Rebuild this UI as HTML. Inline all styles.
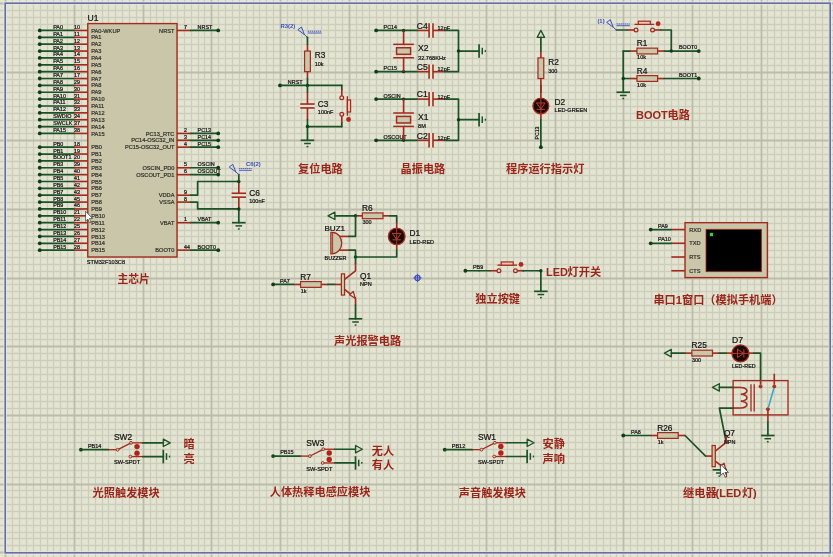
<!DOCTYPE html>
<html lang="zh"><head><meta charset="utf-8"><title>STM32 schematic</title>
<style>
html,body{margin:0;padding:0;background:#e4e4d3;overflow:hidden}
svg{display:block;will-change:transform;filter:blur(0.35px)}
svg text{font-family:"Liberation Sans","Noto Sans CJK SC",sans-serif}
</style></head><body>
<svg width="833" height="557" viewBox="0 0 833 557">
<rect x="0" y="0" width="833" height="557" fill="#e4e4d3"/>
<path d="M12.5 0V557M19.5 0V557M26.5 0V557M33.5 0V557M40.5 0V557M47.5 0V557M53.5 0V557M60.5 0V557M67.5 0V557M81.5 0V557M88.5 0V557M95.5 0V557M102.5 0V557M108.5 0V557M115.5 0V557M122.5 0V557M129.5 0V557M136.5 0V557M150.5 0V557M156.5 0V557M163.5 0V557M170.5 0V557M177.5 0V557M184.5 0V557M191.5 0V557M198.5 0V557M204.5 0V557M218.5 0V557M225.5 0V557M232.5 0V557M239.5 0V557M246.5 0V557M253.5 0V557M259.5 0V557M266.5 0V557M273.5 0V557M287.5 0V557M294.5 0V557M301.5 0V557M307.5 0V557M314.5 0V557M321.5 0V557M328.5 0V557M335.5 0V557M342.5 0V557M356.5 0V557M362.5 0V557M369.5 0V557M376.5 0V557M383.5 0V557M390.5 0V557M397.5 0V557M404.5 0V557M410.5 0V557M424.5 0V557M431.5 0V557M438.5 0V557M445.5 0V557M452.5 0V557M458.5 0V557M465.5 0V557M472.5 0V557M479.5 0V557M493.5 0V557M500.5 0V557M507.5 0V557M513.5 0V557M520.5 0V557M527.5 0V557M534.5 0V557M541.5 0V557M548.5 0V557M561.5 0V557M568.5 0V557M575.5 0V557M582.5 0V557M589.5 0V557M596.5 0V557M603.5 0V557M610.5 0V557M616.5 0V557M630.5 0V557M637.5 0V557M644.5 0V557M651.5 0V557M658.5 0V557M664.5 0V557M671.5 0V557M678.5 0V557M685.5 0V557M699.5 0V557M706.5 0V557M712.5 0V557M719.5 0V557M726.5 0V557M733.5 0V557M740.5 0V557M747.5 0V557M754.5 0V557M767.5 0V557M774.5 0V557M781.5 0V557M788.5 0V557M795.5 0V557M802.5 0V557M809.5 0V557M815.5 0V557M822.5 0V557M0 10.5H833M0 17.5H833M0 24.5H833M0 30.5H833M0 37.5H833M0 44.5H833M0 51.5H833M0 58.5H833M0 65.5H833M0 79.5H833M0 85.5H833M0 92.5H833M0 99.5H833M0 106.5H833M0 113.5H833M0 120.5H833M0 127.5H833M0 133.5H833M0 147.5H833M0 154.5H833M0 161.5H833M0 168.5H833M0 175.5H833M0 181.5H833M0 188.5H833M0 195.5H833M0 202.5H833M0 216.5H833M0 223.5H833M0 230.5H833M0 236.5H833M0 243.5H833M0 250.5H833M0 257.5H833M0 264.5H833M0 271.5H833M0 284.5H833M0 291.5H833M0 298.5H833M0 305.5H833M0 312.5H833M0 319.5H833M0 326.5H833M0 333.5H833M0 339.5H833M0 353.5H833M0 360.5H833M0 367.5H833M0 374.5H833M0 381.5H833M0 387.5H833M0 394.5H833M0 401.5H833M0 408.5H833M0 422.5H833M0 429.5H833M0 435.5H833M0 442.5H833M0 449.5H833M0 456.5H833M0 463.5H833M0 470.5H833M0 477.5H833M0 490.5H833M0 497.5H833M0 504.5H833M0 511.5H833M0 518.5H833M0 525.5H833M0 532.5H833M0 538.5H833M0 545.5H833" stroke="#cdcdbc" stroke-width="1.3" fill="none"/>
<path d="M5.5 0V557M74.5 0V557M143.5 0V557M211.5 0V557M280.5 0V557M349.5 0V557M417.5 0V557M486.5 0V557M555.5 0V557M623.5 0V557M692.5 0V557M761.5 0V557M829.5 0V557M0 3.5H833M0 72.5H833M0 140.5H833M0 209.5H833M0 278.5H833M0 346.5H833M0 415.5H833M0 484.5H833M0 552.5H833" stroke="#bcbcac" stroke-width="1.8" fill="none"/>
<rect x="5.2" y="3.2" width="825" height="549.6" fill="none" stroke="#f4f4f0" stroke-width="3.6" opacity="0.55"/>
<rect x="5.2" y="3.2" width="825" height="549.6" fill="none" stroke="#666dab" stroke-width="1.6"/>
<rect x="87.78" y="23.59" width="89.245" height="233.41" fill="#cac6a9" stroke="#a32a1c" stroke-width="1.4"/>
<text x="87.58" y="20.99" font-size="8.6" text-anchor="start" fill="#151515" font-weight="normal" stroke="#151515" stroke-width="0.22" >U1</text>
<text x="86.78" y="263.6" font-size="5.65" text-anchor="start" fill="#151515" font-weight="normal" stroke="#151515" stroke-width="0.22" >STM32F103C8</text>
<polyline points="39.73,30.46 74.05,30.46" fill="none" stroke="#1b5226" stroke-width="1.7" stroke-linejoin="round" stroke-linecap="round" />
<line x1="74.05" y1="30.46" x2="87.78" y2="30.46" stroke="#a32a1c" stroke-width="1.6" />
<circle cx="39.73" cy="30.46" r="1.9" fill="#0f3d17"/>
<text x="53.150000000000006" y="28.96" font-size="5.4" text-anchor="start" fill="#151515" font-weight="normal" stroke="#151515" stroke-width="0.22" >PA0</text>
<text x="74.05" y="28.96" font-size="5.4" text-anchor="start" fill="#151515" font-weight="normal" stroke="#151515" stroke-width="0.22" >10</text>
<text x="91.18" y="32.56" font-size="5.65" text-anchor="start" fill="#33332c" font-weight="normal" stroke="#33332c" stroke-width="0.22" >PA0-WKUP</text>
<polyline points="39.73,37.33 74.05,37.33" fill="none" stroke="#1b5226" stroke-width="1.7" stroke-linejoin="round" stroke-linecap="round" />
<line x1="74.05" y1="37.33" x2="87.78" y2="37.33" stroke="#a32a1c" stroke-width="1.6" />
<circle cx="39.73" cy="37.33" r="1.9" fill="#0f3d17"/>
<text x="53.150000000000006" y="35.83" font-size="5.4" text-anchor="start" fill="#151515" font-weight="normal" stroke="#151515" stroke-width="0.22" >PA1</text>
<text x="74.05" y="35.83" font-size="5.4" text-anchor="start" fill="#151515" font-weight="normal" stroke="#151515" stroke-width="0.22" >11</text>
<text x="91.18" y="39.43" font-size="5.65" text-anchor="start" fill="#33332c" font-weight="normal" stroke="#33332c" stroke-width="0.22" >PA1</text>
<polyline points="39.73,44.19 74.05,44.19" fill="none" stroke="#1b5226" stroke-width="1.7" stroke-linejoin="round" stroke-linecap="round" />
<line x1="74.05" y1="44.19" x2="87.78" y2="44.19" stroke="#a32a1c" stroke-width="1.6" />
<circle cx="39.73" cy="44.19" r="1.9" fill="#0f3d17"/>
<text x="53.150000000000006" y="42.69" font-size="5.4" text-anchor="start" fill="#151515" font-weight="normal" stroke="#151515" stroke-width="0.22" >PA2</text>
<text x="74.05" y="42.69" font-size="5.4" text-anchor="start" fill="#151515" font-weight="normal" stroke="#151515" stroke-width="0.22" >12</text>
<text x="91.18" y="46.29" font-size="5.65" text-anchor="start" fill="#33332c" font-weight="normal" stroke="#33332c" stroke-width="0.22" >PA2</text>
<polyline points="39.73,51.05 74.05,51.05" fill="none" stroke="#1b5226" stroke-width="1.7" stroke-linejoin="round" stroke-linecap="round" />
<line x1="74.05" y1="51.05" x2="87.78" y2="51.05" stroke="#a32a1c" stroke-width="1.6" />
<circle cx="39.73" cy="51.05" r="1.9" fill="#0f3d17"/>
<text x="53.150000000000006" y="49.55" font-size="5.4" text-anchor="start" fill="#151515" font-weight="normal" stroke="#151515" stroke-width="0.22" >PA3</text>
<text x="74.05" y="49.55" font-size="5.4" text-anchor="start" fill="#151515" font-weight="normal" stroke="#151515" stroke-width="0.22" >13</text>
<text x="91.18" y="53.15" font-size="5.65" text-anchor="start" fill="#33332c" font-weight="normal" stroke="#33332c" stroke-width="0.22" >PA3</text>
<polyline points="39.73,57.92 74.05,57.92" fill="none" stroke="#1b5226" stroke-width="1.7" stroke-linejoin="round" stroke-linecap="round" />
<line x1="74.05" y1="57.92" x2="87.78" y2="57.92" stroke="#a32a1c" stroke-width="1.6" />
<circle cx="39.73" cy="57.92" r="1.9" fill="#0f3d17"/>
<text x="53.150000000000006" y="56.42" font-size="5.4" text-anchor="start" fill="#151515" font-weight="normal" stroke="#151515" stroke-width="0.22" >PA4</text>
<text x="74.05" y="56.42" font-size="5.4" text-anchor="start" fill="#151515" font-weight="normal" stroke="#151515" stroke-width="0.22" >14</text>
<text x="91.18" y="60.02" font-size="5.65" text-anchor="start" fill="#33332c" font-weight="normal" stroke="#33332c" stroke-width="0.22" >PA4</text>
<polyline points="39.73,64.78 74.05,64.78" fill="none" stroke="#1b5226" stroke-width="1.7" stroke-linejoin="round" stroke-linecap="round" />
<line x1="74.05" y1="64.78" x2="87.78" y2="64.78" stroke="#a32a1c" stroke-width="1.6" />
<circle cx="39.73" cy="64.78" r="1.9" fill="#0f3d17"/>
<text x="53.150000000000006" y="63.28" font-size="5.4" text-anchor="start" fill="#151515" font-weight="normal" stroke="#151515" stroke-width="0.22" >PA5</text>
<text x="74.05" y="63.28" font-size="5.4" text-anchor="start" fill="#151515" font-weight="normal" stroke="#151515" stroke-width="0.22" >15</text>
<text x="91.18" y="66.88" font-size="5.65" text-anchor="start" fill="#33332c" font-weight="normal" stroke="#33332c" stroke-width="0.22" >PA5</text>
<polyline points="39.73,71.65 74.05,71.65" fill="none" stroke="#1b5226" stroke-width="1.7" stroke-linejoin="round" stroke-linecap="round" />
<line x1="74.05" y1="71.65" x2="87.78" y2="71.65" stroke="#a32a1c" stroke-width="1.6" />
<circle cx="39.73" cy="71.65" r="1.9" fill="#0f3d17"/>
<text x="53.150000000000006" y="70.15" font-size="5.4" text-anchor="start" fill="#151515" font-weight="normal" stroke="#151515" stroke-width="0.22" >PA6</text>
<text x="74.05" y="70.15" font-size="5.4" text-anchor="start" fill="#151515" font-weight="normal" stroke="#151515" stroke-width="0.22" >16</text>
<text x="91.18" y="73.75" font-size="5.65" text-anchor="start" fill="#33332c" font-weight="normal" stroke="#33332c" stroke-width="0.22" >PA6</text>
<polyline points="39.73,78.52 74.05,78.52" fill="none" stroke="#1b5226" stroke-width="1.7" stroke-linejoin="round" stroke-linecap="round" />
<line x1="74.05" y1="78.52" x2="87.78" y2="78.52" stroke="#a32a1c" stroke-width="1.6" />
<circle cx="39.73" cy="78.52" r="1.9" fill="#0f3d17"/>
<text x="53.150000000000006" y="77.02" font-size="5.4" text-anchor="start" fill="#151515" font-weight="normal" stroke="#151515" stroke-width="0.22" >PA7</text>
<text x="74.05" y="77.02" font-size="5.4" text-anchor="start" fill="#151515" font-weight="normal" stroke="#151515" stroke-width="0.22" >17</text>
<text x="91.18" y="80.61999999999999" font-size="5.65" text-anchor="start" fill="#33332c" font-weight="normal" stroke="#33332c" stroke-width="0.22" >PA7</text>
<polyline points="39.73,85.38 74.05,85.38" fill="none" stroke="#1b5226" stroke-width="1.7" stroke-linejoin="round" stroke-linecap="round" />
<line x1="74.05" y1="85.38" x2="87.78" y2="85.38" stroke="#a32a1c" stroke-width="1.6" />
<circle cx="39.73" cy="85.38" r="1.9" fill="#0f3d17"/>
<text x="53.150000000000006" y="83.88" font-size="5.4" text-anchor="start" fill="#151515" font-weight="normal" stroke="#151515" stroke-width="0.22" >PA8</text>
<text x="74.05" y="83.88" font-size="5.4" text-anchor="start" fill="#151515" font-weight="normal" stroke="#151515" stroke-width="0.22" >29</text>
<text x="91.18" y="87.47999999999999" font-size="5.65" text-anchor="start" fill="#33332c" font-weight="normal" stroke="#33332c" stroke-width="0.22" >PA8</text>
<polyline points="39.73,92.25 74.05,92.25" fill="none" stroke="#1b5226" stroke-width="1.7" stroke-linejoin="round" stroke-linecap="round" />
<line x1="74.05" y1="92.25" x2="87.78" y2="92.25" stroke="#a32a1c" stroke-width="1.6" />
<circle cx="39.73" cy="92.25" r="1.9" fill="#0f3d17"/>
<text x="53.150000000000006" y="90.75" font-size="5.4" text-anchor="start" fill="#151515" font-weight="normal" stroke="#151515" stroke-width="0.22" >PA9</text>
<text x="74.05" y="90.75" font-size="5.4" text-anchor="start" fill="#151515" font-weight="normal" stroke="#151515" stroke-width="0.22" >30</text>
<text x="91.18" y="94.35" font-size="5.65" text-anchor="start" fill="#33332c" font-weight="normal" stroke="#33332c" stroke-width="0.22" >PA9</text>
<polyline points="39.73,99.11 74.05,99.11" fill="none" stroke="#1b5226" stroke-width="1.7" stroke-linejoin="round" stroke-linecap="round" />
<line x1="74.05" y1="99.11" x2="87.78" y2="99.11" stroke="#a32a1c" stroke-width="1.6" />
<circle cx="39.73" cy="99.11" r="1.9" fill="#0f3d17"/>
<text x="53.150000000000006" y="97.61" font-size="5.4" text-anchor="start" fill="#151515" font-weight="normal" stroke="#151515" stroke-width="0.22" >PA10</text>
<text x="74.05" y="97.61" font-size="5.4" text-anchor="start" fill="#151515" font-weight="normal" stroke="#151515" stroke-width="0.22" >31</text>
<text x="91.18" y="101.21" font-size="5.65" text-anchor="start" fill="#33332c" font-weight="normal" stroke="#33332c" stroke-width="0.22" >PA10</text>
<polyline points="39.73,105.98 74.05,105.98" fill="none" stroke="#1b5226" stroke-width="1.7" stroke-linejoin="round" stroke-linecap="round" />
<line x1="74.05" y1="105.98" x2="87.78" y2="105.98" stroke="#a32a1c" stroke-width="1.6" />
<circle cx="39.73" cy="105.98" r="1.9" fill="#0f3d17"/>
<text x="53.150000000000006" y="104.48" font-size="5.4" text-anchor="start" fill="#151515" font-weight="normal" stroke="#151515" stroke-width="0.22" >PA11</text>
<text x="74.05" y="104.48" font-size="5.4" text-anchor="start" fill="#151515" font-weight="normal" stroke="#151515" stroke-width="0.22" >32</text>
<text x="91.18" y="108.08" font-size="5.65" text-anchor="start" fill="#33332c" font-weight="normal" stroke="#33332c" stroke-width="0.22" >PA11</text>
<polyline points="39.73,112.84 74.05,112.84" fill="none" stroke="#1b5226" stroke-width="1.7" stroke-linejoin="round" stroke-linecap="round" />
<line x1="74.05" y1="112.84" x2="87.78" y2="112.84" stroke="#a32a1c" stroke-width="1.6" />
<circle cx="39.73" cy="112.84" r="1.9" fill="#0f3d17"/>
<text x="53.150000000000006" y="111.34" font-size="5.4" text-anchor="start" fill="#151515" font-weight="normal" stroke="#151515" stroke-width="0.22" >PA12</text>
<text x="74.05" y="111.34" font-size="5.4" text-anchor="start" fill="#151515" font-weight="normal" stroke="#151515" stroke-width="0.22" >33</text>
<text x="91.18" y="114.94" font-size="5.65" text-anchor="start" fill="#33332c" font-weight="normal" stroke="#33332c" stroke-width="0.22" >PA12</text>
<polyline points="39.73,119.7 74.05,119.7" fill="none" stroke="#1b5226" stroke-width="1.7" stroke-linejoin="round" stroke-linecap="round" />
<line x1="74.05" y1="119.7" x2="87.78" y2="119.7" stroke="#a32a1c" stroke-width="1.6" />
<circle cx="39.73" cy="119.7" r="1.9" fill="#0f3d17"/>
<text x="53.150000000000006" y="118.2" font-size="5.4" text-anchor="start" fill="#151515" font-weight="normal" stroke="#151515" stroke-width="0.22" >SWDIO</text>
<text x="74.05" y="118.2" font-size="5.4" text-anchor="start" fill="#151515" font-weight="normal" stroke="#151515" stroke-width="0.22" >34</text>
<text x="91.18" y="121.8" font-size="5.65" text-anchor="start" fill="#33332c" font-weight="normal" stroke="#33332c" stroke-width="0.22" >PA13</text>
<polyline points="39.73,126.57 74.05,126.57" fill="none" stroke="#1b5226" stroke-width="1.7" stroke-linejoin="round" stroke-linecap="round" />
<line x1="74.05" y1="126.57" x2="87.78" y2="126.57" stroke="#a32a1c" stroke-width="1.6" />
<circle cx="39.73" cy="126.57" r="1.9" fill="#0f3d17"/>
<text x="53.150000000000006" y="125.07" font-size="5.4" text-anchor="start" fill="#151515" font-weight="normal" stroke="#151515" stroke-width="0.22" >SWCLK</text>
<text x="74.05" y="125.07" font-size="5.4" text-anchor="start" fill="#151515" font-weight="normal" stroke="#151515" stroke-width="0.22" >37</text>
<text x="91.18" y="128.67" font-size="5.65" text-anchor="start" fill="#33332c" font-weight="normal" stroke="#33332c" stroke-width="0.22" >PA14</text>
<polyline points="39.73,133.44 74.05,133.44" fill="none" stroke="#1b5226" stroke-width="1.7" stroke-linejoin="round" stroke-linecap="round" />
<line x1="74.05" y1="133.44" x2="87.78" y2="133.44" stroke="#a32a1c" stroke-width="1.6" />
<circle cx="39.73" cy="133.44" r="1.9" fill="#0f3d17"/>
<text x="53.150000000000006" y="131.94" font-size="5.4" text-anchor="start" fill="#151515" font-weight="normal" stroke="#151515" stroke-width="0.22" >PA15</text>
<text x="74.05" y="131.94" font-size="5.4" text-anchor="start" fill="#151515" font-weight="normal" stroke="#151515" stroke-width="0.22" >38</text>
<text x="91.18" y="135.54" font-size="5.65" text-anchor="start" fill="#33332c" font-weight="normal" stroke="#33332c" stroke-width="0.22" >PA15</text>
<polyline points="39.73,147.16 74.05,147.16" fill="none" stroke="#1b5226" stroke-width="1.7" stroke-linejoin="round" stroke-linecap="round" />
<line x1="74.05" y1="147.16" x2="87.78" y2="147.16" stroke="#a32a1c" stroke-width="1.6" />
<circle cx="39.73" cy="147.16" r="1.9" fill="#0f3d17"/>
<text x="53.150000000000006" y="145.66" font-size="5.4" text-anchor="start" fill="#151515" font-weight="normal" stroke="#151515" stroke-width="0.22" >PB0</text>
<text x="74.05" y="145.66" font-size="5.4" text-anchor="start" fill="#151515" font-weight="normal" stroke="#151515" stroke-width="0.22" >18</text>
<text x="91.18" y="149.26" font-size="5.65" text-anchor="start" fill="#33332c" font-weight="normal" stroke="#33332c" stroke-width="0.22" >PB0</text>
<polyline points="39.73,154.03 74.05,154.03" fill="none" stroke="#1b5226" stroke-width="1.7" stroke-linejoin="round" stroke-linecap="round" />
<line x1="74.05" y1="154.03" x2="87.78" y2="154.03" stroke="#a32a1c" stroke-width="1.6" />
<circle cx="39.73" cy="154.03" r="1.9" fill="#0f3d17"/>
<text x="53.150000000000006" y="152.53" font-size="5.4" text-anchor="start" fill="#151515" font-weight="normal" stroke="#151515" stroke-width="0.22" >PB1</text>
<text x="74.05" y="152.53" font-size="5.4" text-anchor="start" fill="#151515" font-weight="normal" stroke="#151515" stroke-width="0.22" >19</text>
<text x="91.18" y="156.13" font-size="5.65" text-anchor="start" fill="#33332c" font-weight="normal" stroke="#33332c" stroke-width="0.22" >PB1</text>
<polyline points="39.73,160.9 74.05,160.9" fill="none" stroke="#1b5226" stroke-width="1.7" stroke-linejoin="round" stroke-linecap="round" />
<line x1="74.05" y1="160.9" x2="87.78" y2="160.9" stroke="#a32a1c" stroke-width="1.6" />
<circle cx="39.73" cy="160.9" r="1.9" fill="#0f3d17"/>
<text x="53.150000000000006" y="159.4" font-size="5.4" text-anchor="start" fill="#151515" font-weight="normal" stroke="#151515" stroke-width="0.22" >BOOT1</text>
<text x="74.05" y="159.4" font-size="5.4" text-anchor="start" fill="#151515" font-weight="normal" stroke="#151515" stroke-width="0.22" >20</text>
<text x="91.18" y="163.0" font-size="5.65" text-anchor="start" fill="#33332c" font-weight="normal" stroke="#33332c" stroke-width="0.22" >PB2</text>
<polyline points="39.73,167.76 74.05,167.76" fill="none" stroke="#1b5226" stroke-width="1.7" stroke-linejoin="round" stroke-linecap="round" />
<line x1="74.05" y1="167.76" x2="87.78" y2="167.76" stroke="#a32a1c" stroke-width="1.6" />
<circle cx="39.73" cy="167.76" r="1.9" fill="#0f3d17"/>
<text x="53.150000000000006" y="166.26" font-size="5.4" text-anchor="start" fill="#151515" font-weight="normal" stroke="#151515" stroke-width="0.22" >PB3</text>
<text x="74.05" y="166.26" font-size="5.4" text-anchor="start" fill="#151515" font-weight="normal" stroke="#151515" stroke-width="0.22" >39</text>
<text x="91.18" y="169.85999999999999" font-size="5.65" text-anchor="start" fill="#33332c" font-weight="normal" stroke="#33332c" stroke-width="0.22" >PB3</text>
<polyline points="39.73,174.62 74.05,174.62" fill="none" stroke="#1b5226" stroke-width="1.7" stroke-linejoin="round" stroke-linecap="round" />
<line x1="74.05" y1="174.62" x2="87.78" y2="174.62" stroke="#a32a1c" stroke-width="1.6" />
<circle cx="39.73" cy="174.62" r="1.9" fill="#0f3d17"/>
<text x="53.150000000000006" y="173.12" font-size="5.4" text-anchor="start" fill="#151515" font-weight="normal" stroke="#151515" stroke-width="0.22" >PB4</text>
<text x="74.05" y="173.12" font-size="5.4" text-anchor="start" fill="#151515" font-weight="normal" stroke="#151515" stroke-width="0.22" >40</text>
<text x="91.18" y="176.72" font-size="5.65" text-anchor="start" fill="#33332c" font-weight="normal" stroke="#33332c" stroke-width="0.22" >PB4</text>
<polyline points="39.73,181.49 74.05,181.49" fill="none" stroke="#1b5226" stroke-width="1.7" stroke-linejoin="round" stroke-linecap="round" />
<line x1="74.05" y1="181.49" x2="87.78" y2="181.49" stroke="#a32a1c" stroke-width="1.6" />
<circle cx="39.73" cy="181.49" r="1.9" fill="#0f3d17"/>
<text x="53.150000000000006" y="179.99" font-size="5.4" text-anchor="start" fill="#151515" font-weight="normal" stroke="#151515" stroke-width="0.22" >PB5</text>
<text x="74.05" y="179.99" font-size="5.4" text-anchor="start" fill="#151515" font-weight="normal" stroke="#151515" stroke-width="0.22" >41</text>
<text x="91.18" y="183.59" font-size="5.65" text-anchor="start" fill="#33332c" font-weight="normal" stroke="#33332c" stroke-width="0.22" >PB5</text>
<polyline points="39.73,188.36 74.05,188.36" fill="none" stroke="#1b5226" stroke-width="1.7" stroke-linejoin="round" stroke-linecap="round" />
<line x1="74.05" y1="188.36" x2="87.78" y2="188.36" stroke="#a32a1c" stroke-width="1.6" />
<circle cx="39.73" cy="188.36" r="1.9" fill="#0f3d17"/>
<text x="53.150000000000006" y="186.86" font-size="5.4" text-anchor="start" fill="#151515" font-weight="normal" stroke="#151515" stroke-width="0.22" >PB6</text>
<text x="74.05" y="186.86" font-size="5.4" text-anchor="start" fill="#151515" font-weight="normal" stroke="#151515" stroke-width="0.22" >42</text>
<text x="91.18" y="190.46" font-size="5.65" text-anchor="start" fill="#33332c" font-weight="normal" stroke="#33332c" stroke-width="0.22" >PB6</text>
<polyline points="39.73,195.22 74.05,195.22" fill="none" stroke="#1b5226" stroke-width="1.7" stroke-linejoin="round" stroke-linecap="round" />
<line x1="74.05" y1="195.22" x2="87.78" y2="195.22" stroke="#a32a1c" stroke-width="1.6" />
<circle cx="39.73" cy="195.22" r="1.9" fill="#0f3d17"/>
<text x="53.150000000000006" y="193.72" font-size="5.4" text-anchor="start" fill="#151515" font-weight="normal" stroke="#151515" stroke-width="0.22" >PB7</text>
<text x="74.05" y="193.72" font-size="5.4" text-anchor="start" fill="#151515" font-weight="normal" stroke="#151515" stroke-width="0.22" >43</text>
<text x="91.18" y="197.32" font-size="5.65" text-anchor="start" fill="#33332c" font-weight="normal" stroke="#33332c" stroke-width="0.22" >PB7</text>
<polyline points="39.73,202.09 74.05,202.09" fill="none" stroke="#1b5226" stroke-width="1.7" stroke-linejoin="round" stroke-linecap="round" />
<line x1="74.05" y1="202.09" x2="87.78" y2="202.09" stroke="#a32a1c" stroke-width="1.6" />
<circle cx="39.73" cy="202.09" r="1.9" fill="#0f3d17"/>
<text x="53.150000000000006" y="200.59" font-size="5.4" text-anchor="start" fill="#151515" font-weight="normal" stroke="#151515" stroke-width="0.22" >PB8</text>
<text x="74.05" y="200.59" font-size="5.4" text-anchor="start" fill="#151515" font-weight="normal" stroke="#151515" stroke-width="0.22" >45</text>
<text x="91.18" y="204.19" font-size="5.65" text-anchor="start" fill="#33332c" font-weight="normal" stroke="#33332c" stroke-width="0.22" >PB8</text>
<polyline points="39.73,208.95 74.05,208.95" fill="none" stroke="#1b5226" stroke-width="1.7" stroke-linejoin="round" stroke-linecap="round" />
<line x1="74.05" y1="208.95" x2="87.78" y2="208.95" stroke="#a32a1c" stroke-width="1.6" />
<circle cx="39.73" cy="208.95" r="1.9" fill="#0f3d17"/>
<text x="53.150000000000006" y="207.45" font-size="5.4" text-anchor="start" fill="#151515" font-weight="normal" stroke="#151515" stroke-width="0.22" >PB9</text>
<text x="74.05" y="207.45" font-size="5.4" text-anchor="start" fill="#151515" font-weight="normal" stroke="#151515" stroke-width="0.22" >46</text>
<text x="91.18" y="211.04999999999998" font-size="5.65" text-anchor="start" fill="#33332c" font-weight="normal" stroke="#33332c" stroke-width="0.22" >PB9</text>
<polyline points="39.73,215.81 74.05,215.81" fill="none" stroke="#1b5226" stroke-width="1.7" stroke-linejoin="round" stroke-linecap="round" />
<line x1="74.05" y1="215.81" x2="87.78" y2="215.81" stroke="#a32a1c" stroke-width="1.6" />
<circle cx="39.73" cy="215.81" r="1.9" fill="#0f3d17"/>
<text x="53.150000000000006" y="214.31" font-size="5.4" text-anchor="start" fill="#151515" font-weight="normal" stroke="#151515" stroke-width="0.22" >PB10</text>
<text x="74.05" y="214.31" font-size="5.4" text-anchor="start" fill="#151515" font-weight="normal" stroke="#151515" stroke-width="0.22" >21</text>
<text x="91.18" y="217.91" font-size="5.65" text-anchor="start" fill="#33332c" font-weight="normal" stroke="#33332c" stroke-width="0.22" >PB10</text>
<polyline points="39.73,222.68 74.05,222.68" fill="none" stroke="#1b5226" stroke-width="1.7" stroke-linejoin="round" stroke-linecap="round" />
<line x1="74.05" y1="222.68" x2="87.78" y2="222.68" stroke="#a32a1c" stroke-width="1.6" />
<circle cx="39.73" cy="222.68" r="1.9" fill="#0f3d17"/>
<text x="53.150000000000006" y="221.18" font-size="5.4" text-anchor="start" fill="#151515" font-weight="normal" stroke="#151515" stroke-width="0.22" >PB11</text>
<text x="74.05" y="221.18" font-size="5.4" text-anchor="start" fill="#151515" font-weight="normal" stroke="#151515" stroke-width="0.22" >22</text>
<text x="91.18" y="224.78" font-size="5.65" text-anchor="start" fill="#33332c" font-weight="normal" stroke="#33332c" stroke-width="0.22" >PB11</text>
<polyline points="39.73,229.55 74.05,229.55" fill="none" stroke="#1b5226" stroke-width="1.7" stroke-linejoin="round" stroke-linecap="round" />
<line x1="74.05" y1="229.55" x2="87.78" y2="229.55" stroke="#a32a1c" stroke-width="1.6" />
<circle cx="39.73" cy="229.55" r="1.9" fill="#0f3d17"/>
<text x="53.150000000000006" y="228.05" font-size="5.4" text-anchor="start" fill="#151515" font-weight="normal" stroke="#151515" stroke-width="0.22" >PB12</text>
<text x="74.05" y="228.05" font-size="5.4" text-anchor="start" fill="#151515" font-weight="normal" stroke="#151515" stroke-width="0.22" >25</text>
<text x="91.18" y="231.65" font-size="5.65" text-anchor="start" fill="#33332c" font-weight="normal" stroke="#33332c" stroke-width="0.22" >PB12</text>
<polyline points="39.73,236.41 74.05,236.41" fill="none" stroke="#1b5226" stroke-width="1.7" stroke-linejoin="round" stroke-linecap="round" />
<line x1="74.05" y1="236.41" x2="87.78" y2="236.41" stroke="#a32a1c" stroke-width="1.6" />
<circle cx="39.73" cy="236.41" r="1.9" fill="#0f3d17"/>
<text x="53.150000000000006" y="234.91" font-size="5.4" text-anchor="start" fill="#151515" font-weight="normal" stroke="#151515" stroke-width="0.22" >PB13</text>
<text x="74.05" y="234.91" font-size="5.4" text-anchor="start" fill="#151515" font-weight="normal" stroke="#151515" stroke-width="0.22" >26</text>
<text x="91.18" y="238.51" font-size="5.65" text-anchor="start" fill="#33332c" font-weight="normal" stroke="#33332c" stroke-width="0.22" >PB13</text>
<polyline points="39.73,243.28 74.05,243.28" fill="none" stroke="#1b5226" stroke-width="1.7" stroke-linejoin="round" stroke-linecap="round" />
<line x1="74.05" y1="243.28" x2="87.78" y2="243.28" stroke="#a32a1c" stroke-width="1.6" />
<circle cx="39.73" cy="243.28" r="1.9" fill="#0f3d17"/>
<text x="53.150000000000006" y="241.78" font-size="5.4" text-anchor="start" fill="#151515" font-weight="normal" stroke="#151515" stroke-width="0.22" >PB14</text>
<text x="74.05" y="241.78" font-size="5.4" text-anchor="start" fill="#151515" font-weight="normal" stroke="#151515" stroke-width="0.22" >27</text>
<text x="91.18" y="245.38" font-size="5.65" text-anchor="start" fill="#33332c" font-weight="normal" stroke="#33332c" stroke-width="0.22" >PB14</text>
<polyline points="39.73,250.14 74.05,250.14" fill="none" stroke="#1b5226" stroke-width="1.7" stroke-linejoin="round" stroke-linecap="round" />
<line x1="74.05" y1="250.14" x2="87.78" y2="250.14" stroke="#a32a1c" stroke-width="1.6" />
<circle cx="39.73" cy="250.14" r="1.9" fill="#0f3d17"/>
<text x="53.150000000000006" y="248.64" font-size="5.4" text-anchor="start" fill="#151515" font-weight="normal" stroke="#151515" stroke-width="0.22" >PB15</text>
<text x="74.05" y="248.64" font-size="5.4" text-anchor="start" fill="#151515" font-weight="normal" stroke="#151515" stroke-width="0.22" >28</text>
<text x="91.18" y="252.23999999999998" font-size="5.65" text-anchor="start" fill="#33332c" font-weight="normal" stroke="#33332c" stroke-width="0.22" >PB15</text>
<line x1="177.03" y1="30.46" x2="190.76" y2="30.46" stroke="#a32a1c" stroke-width="1.6" />
<polyline points="190.76,30.46 218.22,30.46" fill="none" stroke="#1b5226" stroke-width="1.7" stroke-linejoin="round" stroke-linecap="round" />
<circle cx="218.22" cy="30.46" r="1.9" fill="#0f3d17"/>
<text x="197.62" y="28.96" font-size="5.4" text-anchor="start" fill="#151515" font-weight="normal" stroke="#151515" stroke-width="0.22" >NRST</text>
<text x="184.08999999999997" y="28.96" font-size="5.4" text-anchor="start" fill="#151515" font-weight="normal" stroke="#151515" stroke-width="0.22" >7</text>
<text x="174.43" y="32.56" font-size="5.65" text-anchor="end" fill="#33332c" font-weight="normal" stroke="#33332c" stroke-width="0.22" >NRST</text>
<line x1="177.03" y1="133.44" x2="190.76" y2="133.44" stroke="#a32a1c" stroke-width="1.6" />
<polyline points="190.76,133.44 218.22,133.44" fill="none" stroke="#1b5226" stroke-width="1.7" stroke-linejoin="round" stroke-linecap="round" />
<circle cx="218.22" cy="133.44" r="1.9" fill="#0f3d17"/>
<text x="197.62" y="131.94" font-size="5.4" text-anchor="start" fill="#151515" font-weight="normal" stroke="#151515" stroke-width="0.22" >PC13</text>
<text x="184.08999999999997" y="131.94" font-size="5.4" text-anchor="start" fill="#151515" font-weight="normal" stroke="#151515" stroke-width="0.22" >2</text>
<text x="174.43" y="135.54" font-size="5.65" text-anchor="end" fill="#33332c" font-weight="normal" stroke="#33332c" stroke-width="0.22" >PC13_RTC</text>
<line x1="177.03" y1="140.3" x2="190.76" y2="140.3" stroke="#a32a1c" stroke-width="1.6" />
<polyline points="190.76,140.3 218.22,140.3" fill="none" stroke="#1b5226" stroke-width="1.7" stroke-linejoin="round" stroke-linecap="round" />
<circle cx="218.22" cy="140.3" r="1.9" fill="#0f3d17"/>
<text x="197.62" y="138.8" font-size="5.4" text-anchor="start" fill="#151515" font-weight="normal" stroke="#151515" stroke-width="0.22" >PC14</text>
<text x="184.08999999999997" y="138.8" font-size="5.4" text-anchor="start" fill="#151515" font-weight="normal" stroke="#151515" stroke-width="0.22" >3</text>
<text x="174.43" y="142.4" font-size="5.65" text-anchor="end" fill="#33332c" font-weight="normal" stroke="#33332c" stroke-width="0.22" >PC14-OSC32_IN</text>
<line x1="177.03" y1="147.16" x2="190.76" y2="147.16" stroke="#a32a1c" stroke-width="1.6" />
<polyline points="190.76,147.16 218.22,147.16" fill="none" stroke="#1b5226" stroke-width="1.7" stroke-linejoin="round" stroke-linecap="round" />
<circle cx="218.22" cy="147.16" r="1.9" fill="#0f3d17"/>
<text x="197.62" y="145.66" font-size="5.4" text-anchor="start" fill="#151515" font-weight="normal" stroke="#151515" stroke-width="0.22" >PC15</text>
<text x="184.08999999999997" y="145.66" font-size="5.4" text-anchor="start" fill="#151515" font-weight="normal" stroke="#151515" stroke-width="0.22" >4</text>
<text x="174.43" y="149.26" font-size="5.65" text-anchor="end" fill="#33332c" font-weight="normal" stroke="#33332c" stroke-width="0.22" >PC15-OSC32_OUT</text>
<line x1="177.03" y1="167.76" x2="190.76" y2="167.76" stroke="#a32a1c" stroke-width="1.6" />
<polyline points="190.76,167.76 218.22,167.76" fill="none" stroke="#1b5226" stroke-width="1.7" stroke-linejoin="round" stroke-linecap="round" />
<circle cx="218.22" cy="167.76" r="1.9" fill="#0f3d17"/>
<text x="197.62" y="166.26" font-size="5.4" text-anchor="start" fill="#151515" font-weight="normal" stroke="#151515" stroke-width="0.22" >OSCIN</text>
<text x="184.08999999999997" y="166.26" font-size="5.4" text-anchor="start" fill="#151515" font-weight="normal" stroke="#151515" stroke-width="0.22" >5</text>
<text x="174.43" y="169.85999999999999" font-size="5.65" text-anchor="end" fill="#33332c" font-weight="normal" stroke="#33332c" stroke-width="0.22" >OSCIN_PD0</text>
<line x1="177.03" y1="174.62" x2="190.76" y2="174.62" stroke="#a32a1c" stroke-width="1.6" />
<polyline points="190.76,174.62 218.22,174.62" fill="none" stroke="#1b5226" stroke-width="1.7" stroke-linejoin="round" stroke-linecap="round" />
<circle cx="218.22" cy="174.62" r="1.9" fill="#0f3d17"/>
<text x="197.62" y="173.12" font-size="5.4" text-anchor="start" fill="#151515" font-weight="normal" stroke="#151515" stroke-width="0.22" >OSCOUT</text>
<text x="184.08999999999997" y="173.12" font-size="5.4" text-anchor="start" fill="#151515" font-weight="normal" stroke="#151515" stroke-width="0.22" >6</text>
<text x="174.43" y="176.72" font-size="5.65" text-anchor="end" fill="#33332c" font-weight="normal" stroke="#33332c" stroke-width="0.22" >OSCOUT_PD1</text>
<line x1="177.03" y1="195.22" x2="190.76" y2="195.22" stroke="#a32a1c" stroke-width="1.6" />
<text x="184.08999999999997" y="193.72" font-size="5.4" text-anchor="start" fill="#151515" font-weight="normal" stroke="#151515" stroke-width="0.22" >9</text>
<text x="174.43" y="197.32" font-size="5.65" text-anchor="end" fill="#33332c" font-weight="normal" stroke="#33332c" stroke-width="0.22" >VDDA</text>
<line x1="177.03" y1="202.09" x2="190.76" y2="202.09" stroke="#a32a1c" stroke-width="1.6" />
<text x="184.08999999999997" y="200.59" font-size="5.4" text-anchor="start" fill="#151515" font-weight="normal" stroke="#151515" stroke-width="0.22" >8</text>
<text x="174.43" y="204.19" font-size="5.65" text-anchor="end" fill="#33332c" font-weight="normal" stroke="#33332c" stroke-width="0.22" >VSSA</text>
<line x1="177.03" y1="222.68" x2="190.76" y2="222.68" stroke="#a32a1c" stroke-width="1.6" />
<polyline points="190.76,222.68 218.22,222.68" fill="none" stroke="#1b5226" stroke-width="1.7" stroke-linejoin="round" stroke-linecap="round" />
<circle cx="218.22" cy="222.68" r="1.9" fill="#0f3d17"/>
<text x="197.62" y="221.18" font-size="5.4" text-anchor="start" fill="#151515" font-weight="normal" stroke="#151515" stroke-width="0.22" >VBAT</text>
<text x="184.08999999999997" y="221.18" font-size="5.4" text-anchor="start" fill="#151515" font-weight="normal" stroke="#151515" stroke-width="0.22" >1</text>
<text x="174.43" y="224.78" font-size="5.65" text-anchor="end" fill="#33332c" font-weight="normal" stroke="#33332c" stroke-width="0.22" >VBAT</text>
<line x1="177.03" y1="250.14" x2="190.76" y2="250.14" stroke="#a32a1c" stroke-width="1.6" />
<polyline points="190.76,250.14 218.22,250.14" fill="none" stroke="#1b5226" stroke-width="1.7" stroke-linejoin="round" stroke-linecap="round" />
<circle cx="218.22" cy="250.14" r="1.9" fill="#0f3d17"/>
<text x="197.62" y="248.64" font-size="5.4" text-anchor="start" fill="#151515" font-weight="normal" stroke="#151515" stroke-width="0.22" >BOOT0</text>
<text x="184.08999999999997" y="248.64" font-size="5.4" text-anchor="start" fill="#151515" font-weight="normal" stroke="#151515" stroke-width="0.22" >44</text>
<text x="174.43" y="252.23999999999998" font-size="5.65" text-anchor="end" fill="#33332c" font-weight="normal" stroke="#33332c" stroke-width="0.22" >BOOT0</text>
<text x="117.5" y="283" font-size="10.8" text-anchor="start" fill="#9c2519" font-weight="bold"  >主芯片</text>
<polyline points="190.76,195.22 197.62,195.22 197.62,181.49 238.81,181.49" fill="none" stroke="#1b5226" stroke-width="1.7" stroke-linejoin="round" stroke-linecap="round" />
<polyline points="190.76,202.09 197.62,202.09 197.62,208.95 238.81,208.95" fill="none" stroke="#1b5226" stroke-width="1.7" stroke-linejoin="round" stroke-linecap="round" />
<line x1="238.81" y1="181.49" x2="238.81" y2="208.95" stroke="#a32a1c" stroke-width="1.6" />
<rect x="231.41" y="193.32" width="14.8" height="3.8" fill="#e4e4d3" stroke="none" stroke-width="1.2"/>
<line x1="231.61" y1="193.27" x2="246.01" y2="193.27" stroke="#a32a1c" stroke-width="1.6" />
<line x1="231.61" y1="197.17" x2="246.01" y2="197.17" stroke="#a32a1c" stroke-width="1.6" />
<text x="249.21" y="195.82" font-size="8.3" text-anchor="start" fill="#151515" font-weight="normal" stroke="#151515" stroke-width="0.22" >C6</text>
<text x="249.21" y="203.32" font-size="5.5" text-anchor="start" fill="#151515" font-weight="normal" stroke="#151515" stroke-width="0.22" >100nF</text>
<polyline points="238.81,208.95 238.81,222.68" fill="none" stroke="#1b5226" stroke-width="1.7" stroke-linejoin="round" stroke-linecap="round" />
<line x1="232.01" y1="222.68" x2="245.61" y2="222.68" stroke="#1b5226" stroke-width="1.7" />
<line x1="235.51" y1="225.88" x2="242.11" y2="225.88" stroke="#1b5226" stroke-width="1.5" />
<line x1="237.91" y1="228.98000000000002" x2="239.71" y2="228.98000000000002" stroke="#1b5226" stroke-width="1.4" />
<circle cx="238.81" cy="181.49" r="1.7" fill="#0f3d17"/>
<circle cx="238.81" cy="208.95" r="1.7" fill="#0f3d17"/>
<polyline points="238.81,181.49 238.81,174.62" fill="none" stroke="#1b5226" stroke-width="1.7" stroke-linejoin="round" stroke-linecap="round" />
<polyline points="238.81,174.62 235.81,171.92000000000002 229.21,167.02 232.81,164.32 235.81,171.92000000000002" fill="none" stroke="#3b4fc0" stroke-width="1.0" stroke-linejoin="round" stroke-linecap="round" />
<line x1="239.11" y1="168.52" x2="251.81" y2="168.52" stroke="#3b4fc0" stroke-width="0.9" stroke-dasharray="1.3,0.7"/>
<line x1="239.11" y1="170.32" x2="251.81" y2="170.32" stroke="#3b4fc0" stroke-width="0.9" />
<text x="246" y="166.0" font-size="5.9" text-anchor="start" fill="#3b4fc0" font-weight="bold"  >C6(2)</text>
<polyline points="307.46,37.33 304.46,34.629999999999995 297.85999999999996,29.729999999999997 301.46,27.029999999999998 304.46,34.629999999999995" fill="none" stroke="#3b4fc0" stroke-width="1.0" stroke-linejoin="round" stroke-linecap="round" />
<line x1="307.76" y1="31.229999999999997" x2="321.46" y2="31.229999999999997" stroke="#3b4fc0" stroke-width="0.9" stroke-dasharray="1.3,0.7"/>
<line x1="307.76" y1="33.03" x2="321.46" y2="33.03" stroke="#3b4fc0" stroke-width="0.9" />
<text x="280.5" y="28.4" font-size="5.9" text-anchor="start" fill="#3b4fc0" font-weight="bold"  >R3(2)</text>
<polyline points="307.46,37.33 307.46,44.19" fill="none" stroke="#1b5226" stroke-width="1.7" stroke-linejoin="round" stroke-linecap="round" />
<line x1="307.46" y1="44.19" x2="307.46" y2="51.05" stroke="#a32a1c" stroke-width="1.6" />
<line x1="307.46" y1="71.65" x2="307.46" y2="78.52" stroke="#a32a1c" stroke-width="1.6" />
<rect x="304.56" y="51.05" width="5.8" height="20.595" fill="#cac6a9" stroke="#a32a1c" stroke-width="1.2"/>
<text x="314.76" y="57.65" font-size="8.3" text-anchor="start" fill="#151515" font-weight="normal" stroke="#151515" stroke-width="0.22" >R3</text>
<text x="314.76" y="65.64999999999999" font-size="5.5" text-anchor="start" fill="#151515" font-weight="normal" stroke="#151515" stroke-width="0.22" >10k</text>
<polyline points="307.46,78.52 307.46,85.38" fill="none" stroke="#1b5226" stroke-width="1.7" stroke-linejoin="round" stroke-linecap="round" />
<polyline points="280.0,85.38 341.78,85.38" fill="none" stroke="#1b5226" stroke-width="1.7" stroke-linejoin="round" stroke-linecap="round" />
<circle cx="280.0" cy="85.38" r="1.9" fill="#0f3d17"/>
<circle cx="307.46" cy="85.38" r="1.7" fill="#0f3d17"/>
<text x="287.87" y="83.78" font-size="5.4" text-anchor="start" fill="#151515" font-weight="normal" stroke="#151515" stroke-width="0.22" >NRST</text>
<polyline points="307.46,85.38 307.46,92.25" fill="none" stroke="#1b5226" stroke-width="1.7" stroke-linejoin="round" stroke-linecap="round" />
<line x1="307.46" y1="92.25" x2="307.46" y2="119.7" stroke="#a32a1c" stroke-width="1.6" />
<rect x="300.06" y="104.08" width="14.8" height="3.8" fill="#e4e4d3" stroke="none" stroke-width="1.2"/>
<line x1="300.26" y1="104.03" x2="314.65999999999997" y2="104.03" stroke="#a32a1c" stroke-width="1.6" />
<line x1="300.26" y1="107.93" x2="314.65999999999997" y2="107.93" stroke="#a32a1c" stroke-width="1.6" />
<text x="317.85999999999996" y="106.58" font-size="8.3" text-anchor="start" fill="#151515" font-weight="normal" stroke="#151515" stroke-width="0.22" >C3</text>
<text x="317.85999999999996" y="114.08" font-size="5.5" text-anchor="start" fill="#151515" font-weight="normal" stroke="#151515" stroke-width="0.22" >100nF</text>
<polyline points="307.46,119.7 307.46,140.3" fill="none" stroke="#1b5226" stroke-width="1.7" stroke-linejoin="round" stroke-linecap="round" />
<line x1="300.65999999999997" y1="140.3" x2="314.26" y2="140.3" stroke="#1b5226" stroke-width="1.7" />
<line x1="304.15999999999997" y1="143.5" x2="310.76" y2="143.5" stroke="#1b5226" stroke-width="1.5" />
<line x1="306.56" y1="146.60000000000002" x2="308.35999999999996" y2="146.60000000000002" stroke="#1b5226" stroke-width="1.4" />
<polyline points="307.46,126.57 341.78,126.57" fill="none" stroke="#1b5226" stroke-width="1.7" stroke-linejoin="round" stroke-linecap="round" />
<circle cx="307.46" cy="126.57" r="1.7" fill="#0f3d17"/>
<polyline points="341.78,85.38 341.78,89.5" fill="none" stroke="#1b5226" stroke-width="1.7" stroke-linejoin="round" stroke-linecap="round" />
<polyline points="341.78,122.45 341.78,126.57" fill="none" stroke="#1b5226" stroke-width="1.7" stroke-linejoin="round" stroke-linecap="round" />
<line x1="341.78" y1="88.98" x2="341.78" y2="95.83" stroke="#a32a1c" stroke-width="1.6" />
<line x1="341.78" y1="116.13000000000001" x2="341.78" y2="122.98" stroke="#a32a1c" stroke-width="1.6" />
<circle cx="341.78" cy="97.73" r="1.9" fill="none" stroke="#a32a1c" stroke-width="1.2"/>
<circle cx="341.78" cy="114.23" r="1.9" fill="none" stroke="#a32a1c" stroke-width="1.2"/>
<line x1="347.38" y1="96.18" x2="347.38" y2="115.78" stroke="#a32a1c" stroke-width="1.3" />
<rect x="347.38" y="99.98" width="3.2" height="12" fill="#f1c3b0" stroke="#a32a1c" stroke-width="1.2"/>
<circle cx="348.58" cy="119.48" r="2.4" fill="#b5261a"/>
<text x="298" y="173.2" font-size="11.2" text-anchor="start" fill="#9c2519" font-weight="bold"  >复位电路</text>
<polyline points="376.11,30.46 417.3,30.46" fill="none" stroke="#1b5226" stroke-width="1.7" stroke-linejoin="round" stroke-linecap="round" />
<circle cx="376.11" cy="30.46" r="1.9" fill="#0f3d17"/>
<circle cx="403.57" cy="30.46" r="1.7" fill="#0f3d17"/>
<polyline points="376.11,71.65 417.3,71.65" fill="none" stroke="#1b5226" stroke-width="1.7" stroke-linejoin="round" stroke-linecap="round" />
<circle cx="376.11" cy="71.65" r="1.9" fill="#0f3d17"/>
<circle cx="403.57" cy="71.65" r="1.7" fill="#0f3d17"/>
<text x="383.57000000000005" y="28.86" font-size="5.4" text-anchor="start" fill="#151515" font-weight="normal" stroke="#151515" stroke-width="0.22" >PC14</text>
<text x="383.57000000000005" y="70.05000000000001" font-size="5.4" text-anchor="start" fill="#151515" font-weight="normal" stroke="#151515" stroke-width="0.22" >PC15</text>
<line x1="403.57" y1="30.46" x2="403.57" y2="44.19" stroke="#a32a1c" stroke-width="1.6" />
<line x1="403.57" y1="57.92" x2="403.57" y2="71.65" stroke="#a32a1c" stroke-width="1.6" />
<line x1="393.27" y1="44.349999999999994" x2="413.87" y2="44.349999999999994" stroke="#a32a1c" stroke-width="1.5" />
<line x1="393.27" y1="57.75" x2="413.87" y2="57.75" stroke="#a32a1c" stroke-width="1.5" />
<rect x="396.57" y="47.75" width="14.0" height="6.6" fill="#cac6a9" stroke="#a32a1c" stroke-width="1.5"/>
<text x="418.07" y="51.25" font-size="8.6" text-anchor="start" fill="#151515" font-weight="normal" stroke="#151515" stroke-width="0.22" >X2</text>
<text x="418.07" y="59.65" font-size="5.6" text-anchor="start" fill="#151515" font-weight="normal" stroke="#151515" stroke-width="0.22" >32.768KHz</text>
<line x1="417.3" y1="30.46" x2="431.03" y2="30.46" stroke="#a32a1c" stroke-width="1.6" />
<line x1="431.03" y1="30.46" x2="444.76" y2="30.46" stroke="#a32a1c" stroke-width="1.6" />
<rect x="429.13" y="23.060000000000002" width="3.8" height="14.8" fill="#e4e4d3" stroke="none" stroke-width="1.2"/>
<line x1="429.08" y1="23.26" x2="429.08" y2="37.660000000000004" stroke="#a32a1c" stroke-width="1.6" />
<line x1="432.97999999999996" y1="23.26" x2="432.97999999999996" y2="37.660000000000004" stroke="#a32a1c" stroke-width="1.6" />
<text x="416.83" y="28.66" font-size="8.6" text-anchor="start" fill="#151515" font-weight="normal" stroke="#151515" stroke-width="0.22" >C4</text>
<text x="437.53" y="30.060000000000002" font-size="5.5" text-anchor="start" fill="#151515" font-weight="normal" stroke="#151515" stroke-width="0.22" >12pF</text>
<line x1="417.3" y1="71.65" x2="431.03" y2="71.65" stroke="#a32a1c" stroke-width="1.6" />
<line x1="431.03" y1="71.65" x2="444.76" y2="71.65" stroke="#a32a1c" stroke-width="1.6" />
<rect x="429.13" y="64.25" width="3.8" height="14.8" fill="#e4e4d3" stroke="none" stroke-width="1.2"/>
<line x1="429.08" y1="64.45" x2="429.08" y2="78.85000000000001" stroke="#a32a1c" stroke-width="1.6" />
<line x1="432.97999999999996" y1="64.45" x2="432.97999999999996" y2="78.85000000000001" stroke="#a32a1c" stroke-width="1.6" />
<text x="416.83" y="69.85000000000001" font-size="8.6" text-anchor="start" fill="#151515" font-weight="normal" stroke="#151515" stroke-width="0.22" >C5</text>
<text x="437.53" y="71.25" font-size="5.5" text-anchor="start" fill="#151515" font-weight="normal" stroke="#151515" stroke-width="0.22" >12pF</text>
<polyline points="444.76,30.46 458.49,30.46 458.49,71.65 444.76,71.65" fill="none" stroke="#1b5226" stroke-width="1.7" stroke-linejoin="round" stroke-linecap="round" />
<polyline points="458.49,51.05 479.08,51.05" fill="none" stroke="#1b5226" stroke-width="1.7" stroke-linejoin="round" stroke-linecap="round" />
<circle cx="458.49" cy="51.05" r="1.7" fill="#0f3d17"/>
<line x1="479.08" y1="44.25" x2="479.08" y2="57.849999999999994" stroke="#1b5226" stroke-width="1.7" />
<line x1="482.28" y1="47.75" x2="482.28" y2="54.349999999999994" stroke="#1b5226" stroke-width="1.5" />
<line x1="485.38" y1="50.15" x2="485.38" y2="51.949999999999996" stroke="#1b5226" stroke-width="1.4" />
<polyline points="376.11,99.11 417.3,99.11" fill="none" stroke="#1b5226" stroke-width="1.7" stroke-linejoin="round" stroke-linecap="round" />
<circle cx="376.11" cy="99.11" r="1.9" fill="#0f3d17"/>
<circle cx="403.57" cy="99.11" r="1.7" fill="#0f3d17"/>
<polyline points="376.11,140.3 417.3,140.3" fill="none" stroke="#1b5226" stroke-width="1.7" stroke-linejoin="round" stroke-linecap="round" />
<circle cx="376.11" cy="140.3" r="1.9" fill="#0f3d17"/>
<circle cx="403.57" cy="140.3" r="1.7" fill="#0f3d17"/>
<text x="383.57000000000005" y="97.51" font-size="5.4" text-anchor="start" fill="#151515" font-weight="normal" stroke="#151515" stroke-width="0.22" >OSCIN</text>
<text x="383.57000000000005" y="138.70000000000002" font-size="5.4" text-anchor="start" fill="#151515" font-weight="normal" stroke="#151515" stroke-width="0.22" >OSCOUT</text>
<line x1="403.57" y1="99.11" x2="403.57" y2="112.84" stroke="#a32a1c" stroke-width="1.6" />
<line x1="403.57" y1="126.57" x2="403.57" y2="140.3" stroke="#a32a1c" stroke-width="1.6" />
<line x1="393.27" y1="113.0" x2="413.87" y2="113.0" stroke="#a32a1c" stroke-width="1.5" />
<line x1="393.27" y1="126.4" x2="413.87" y2="126.4" stroke="#a32a1c" stroke-width="1.5" />
<rect x="396.57" y="116.4" width="14.0" height="6.6" fill="#cac6a9" stroke="#a32a1c" stroke-width="1.5"/>
<text x="418.07" y="119.9" font-size="8.6" text-anchor="start" fill="#151515" font-weight="normal" stroke="#151515" stroke-width="0.22" >X1</text>
<text x="418.07" y="128.3" font-size="5.6" text-anchor="start" fill="#151515" font-weight="normal" stroke="#151515" stroke-width="0.22" >8M</text>
<line x1="417.3" y1="99.11" x2="431.03" y2="99.11" stroke="#a32a1c" stroke-width="1.6" />
<line x1="431.03" y1="99.11" x2="444.76" y2="99.11" stroke="#a32a1c" stroke-width="1.6" />
<rect x="429.13" y="91.71" width="3.8" height="14.8" fill="#e4e4d3" stroke="none" stroke-width="1.2"/>
<line x1="429.08" y1="91.91" x2="429.08" y2="106.31" stroke="#a32a1c" stroke-width="1.6" />
<line x1="432.97999999999996" y1="91.91" x2="432.97999999999996" y2="106.31" stroke="#a32a1c" stroke-width="1.6" />
<text x="416.83" y="97.31" font-size="8.6" text-anchor="start" fill="#151515" font-weight="normal" stroke="#151515" stroke-width="0.22" >C1</text>
<text x="437.53" y="98.71" font-size="5.5" text-anchor="start" fill="#151515" font-weight="normal" stroke="#151515" stroke-width="0.22" >12pF</text>
<line x1="417.3" y1="140.3" x2="431.03" y2="140.3" stroke="#a32a1c" stroke-width="1.6" />
<line x1="431.03" y1="140.3" x2="444.76" y2="140.3" stroke="#a32a1c" stroke-width="1.6" />
<rect x="429.13" y="132.9" width="3.8" height="14.8" fill="#e4e4d3" stroke="none" stroke-width="1.2"/>
<line x1="429.08" y1="133.10000000000002" x2="429.08" y2="147.5" stroke="#a32a1c" stroke-width="1.6" />
<line x1="432.97999999999996" y1="133.10000000000002" x2="432.97999999999996" y2="147.5" stroke="#a32a1c" stroke-width="1.6" />
<text x="416.83" y="138.5" font-size="8.6" text-anchor="start" fill="#151515" font-weight="normal" stroke="#151515" stroke-width="0.22" >C2</text>
<text x="437.53" y="139.9" font-size="5.5" text-anchor="start" fill="#151515" font-weight="normal" stroke="#151515" stroke-width="0.22" >12pF</text>
<polyline points="444.76,99.11 458.49,99.11 458.49,140.3 444.76,140.3" fill="none" stroke="#1b5226" stroke-width="1.7" stroke-linejoin="round" stroke-linecap="round" />
<polyline points="458.49,119.7 479.08,119.7" fill="none" stroke="#1b5226" stroke-width="1.7" stroke-linejoin="round" stroke-linecap="round" />
<circle cx="458.49" cy="119.7" r="1.7" fill="#0f3d17"/>
<line x1="479.08" y1="112.9" x2="479.08" y2="126.5" stroke="#1b5226" stroke-width="1.7" />
<line x1="482.28" y1="116.4" x2="482.28" y2="123.0" stroke="#1b5226" stroke-width="1.5" />
<line x1="485.38" y1="118.8" x2="485.38" y2="120.60000000000001" stroke="#1b5226" stroke-width="1.4" />
<text x="400.5" y="173.2" font-size="11.2" text-anchor="start" fill="#9c2519" font-weight="bold"  >晶振电路</text>
<polyline points="537.17,37.33 540.87,30.43 544.57,37.33 537.17,37.33" fill="none" stroke="#1b5226" stroke-width="1.3" stroke-linejoin="round" stroke-linecap="round" />
<polyline points="540.87,37.33 540.87,51.05" fill="none" stroke="#1b5226" stroke-width="1.7" stroke-linejoin="round" stroke-linecap="round" />
<line x1="540.87" y1="51.05" x2="540.87" y2="57.92" stroke="#a32a1c" stroke-width="1.6" />
<line x1="540.87" y1="78.52" x2="540.87" y2="85.38" stroke="#a32a1c" stroke-width="1.6" />
<rect x="537.97" y="57.92" width="5.8" height="20.595" fill="#cac6a9" stroke="#a32a1c" stroke-width="1.2"/>
<text x="548.17" y="64.52" font-size="8.3" text-anchor="start" fill="#151515" font-weight="normal" stroke="#151515" stroke-width="0.22" >R2</text>
<text x="548.17" y="72.52" font-size="5.5" text-anchor="start" fill="#151515" font-weight="normal" stroke="#151515" stroke-width="0.22" >300</text>
<polyline points="540.87,85.38 540.87,92.25" fill="none" stroke="#1b5226" stroke-width="1.7" stroke-linejoin="round" stroke-linecap="round" />
<line x1="540.87" y1="85.38" x2="540.87" y2="119.7" stroke="#a32a1c" stroke-width="1.6" />
<circle cx="540.87" cy="105.98" r="7.9" fill="#1c0a08" stroke="#a32a1c" stroke-width="1.3"/>
<polyline points="536.67,102.98 545.07,102.98 540.87,109.18 536.67,102.98" fill="none" stroke="#b8402f" stroke-width="1.0" stroke-linejoin="round" stroke-linecap="round" />
<line x1="536.67" y1="109.38000000000001" x2="545.07" y2="109.38000000000001" stroke="#b8402f" stroke-width="1.0" />
<line x1="540.87" y1="98.08" x2="540.87" y2="113.88000000000001" stroke="#b8402f" stroke-width="0.9" />
<polyline points="540.87,119.7 540.87,147.16" fill="none" stroke="#1b5226" stroke-width="1.7" stroke-linejoin="round" stroke-linecap="round" />
<circle cx="540.87" cy="147.16" r="1.9" fill="#0f3d17"/>
<text x="538.67" y="139.5" font-size="5.2" text-anchor="start" fill="#151515" font-weight="normal" stroke="#151515" stroke-width="0.22" transform="rotate(-90 538.67 139.5)">PC13</text>
<text x="554.6" y="104.8" font-size="8.3" text-anchor="start" fill="#151515" font-weight="normal" stroke="#151515" stroke-width="0.22" >D2</text>
<text x="554.6" y="112.4" font-size="5.6" text-anchor="start" fill="#151515" font-weight="normal" stroke="#151515" stroke-width="0.22" >LED-GREEN</text>
<text x="506" y="173.2" font-size="11.2" text-anchor="start" fill="#9c2519" font-weight="bold"  >程序运行指示灯</text>
<polyline points="616.3,30 613.3,27.3 606.6999999999999,22.4 610.3,19.7 613.3,27.3" fill="none" stroke="#3b4fc0" stroke-width="1.0" stroke-linejoin="round" stroke-linecap="round" />
<line x1="616.5999999999999" y1="23.9" x2="629.8" y2="23.9" stroke="#3b4fc0" stroke-width="0.9" stroke-dasharray="1.3,0.7"/>
<line x1="616.5999999999999" y1="25.7" x2="629.8" y2="25.7" stroke="#3b4fc0" stroke-width="0.9" />
<text x="597.4" y="22.599999999999998" font-size="5.9" text-anchor="start" fill="#3b4fc0" font-weight="bold"  >(1)</text>
<polyline points="616.38,29.98 627.37,29.98" fill="none" stroke="#1b5226" stroke-width="1.7" stroke-linejoin="round" stroke-linecap="round" />
<line x1="627.3" y1="29.98" x2="634.15" y2="29.98" stroke="#a32a1c" stroke-width="1.6" />
<line x1="654.4499999999999" y1="29.98" x2="661.3" y2="29.98" stroke="#a32a1c" stroke-width="1.6" />
<circle cx="636.05" cy="29.98" r="1.9" fill="none" stroke="#a32a1c" stroke-width="1.2"/>
<circle cx="652.55" cy="29.98" r="1.9" fill="none" stroke="#a32a1c" stroke-width="1.2"/>
<line x1="634.5" y1="24.380000000000003" x2="654.0999999999999" y2="24.380000000000003" stroke="#a32a1c" stroke-width="1.3" />
<rect x="638.3" y="21.18" width="12" height="3.2" fill="#f1c3b0" stroke="#a32a1c" stroke-width="1.2"/>
<circle cx="658.0999999999999" cy="23.68" r="2.4" fill="#b5261a"/>
<polyline points="661.01,29.98 671.3,29.98 671.3,51.05" fill="none" stroke="#1b5226" stroke-width="1.7" stroke-linejoin="round" stroke-linecap="round" />
<polyline points="623.25,51.05 630.12,51.05" fill="none" stroke="#1b5226" stroke-width="1.7" stroke-linejoin="round" stroke-linecap="round" />
<line x1="630.12" y1="51.05" x2="636.98" y2="51.05" stroke="#a32a1c" stroke-width="1.6" />
<line x1="657.58" y1="51.05" x2="664.44" y2="51.05" stroke="#a32a1c" stroke-width="1.6" />
<rect x="636.98" y="48.15" width="20.595" height="5.8" fill="#cac6a9" stroke="#a32a1c" stroke-width="1.2"/>
<text x="636.6800000000001" y="46.349999999999994" font-size="8.3" text-anchor="start" fill="#151515" font-weight="normal" stroke="#151515" stroke-width="0.22" >R1</text>
<text x="637.08" y="59.449999999999996" font-size="5.5" text-anchor="start" fill="#151515" font-weight="normal" stroke="#151515" stroke-width="0.22" >10k</text>
<polyline points="664.44,51.05 698.76,51.05" fill="none" stroke="#1b5226" stroke-width="1.7" stroke-linejoin="round" stroke-linecap="round" />
<circle cx="671.3" cy="51.05" r="1.7" fill="#0f3d17"/>
<circle cx="698.76" cy="51.05" r="1.9" fill="#0f3d17"/>
<polyline points="623.25,78.52 630.12,78.52" fill="none" stroke="#1b5226" stroke-width="1.7" stroke-linejoin="round" stroke-linecap="round" />
<line x1="630.12" y1="78.52" x2="636.98" y2="78.52" stroke="#a32a1c" stroke-width="1.6" />
<line x1="657.58" y1="78.52" x2="664.44" y2="78.52" stroke="#a32a1c" stroke-width="1.6" />
<rect x="636.98" y="75.61999999999999" width="20.595" height="5.8" fill="#cac6a9" stroke="#a32a1c" stroke-width="1.2"/>
<text x="636.6800000000001" y="73.82" font-size="8.3" text-anchor="start" fill="#151515" font-weight="normal" stroke="#151515" stroke-width="0.22" >R4</text>
<text x="637.08" y="86.92" font-size="5.5" text-anchor="start" fill="#151515" font-weight="normal" stroke="#151515" stroke-width="0.22" >10k</text>
<polyline points="664.44,78.52 698.76,78.52" fill="none" stroke="#1b5226" stroke-width="1.7" stroke-linejoin="round" stroke-linecap="round" />
<circle cx="698.76" cy="78.52" r="1.9" fill="#0f3d17"/>
<polyline points="623.25,51.05 623.25,92.25" fill="none" stroke="#1b5226" stroke-width="1.7" stroke-linejoin="round" stroke-linecap="round" />
<circle cx="623.25" cy="78.52" r="1.7" fill="#0f3d17"/>
<line x1="616.45" y1="92.25" x2="630.05" y2="92.25" stroke="#1b5226" stroke-width="1.7" />
<line x1="619.95" y1="95.45" x2="626.55" y2="95.45" stroke="#1b5226" stroke-width="1.5" />
<line x1="622.35" y1="98.55" x2="624.15" y2="98.55" stroke="#1b5226" stroke-width="1.4" />
<text x="679" y="49.449999999999996" font-size="5.4" text-anchor="start" fill="#151515" font-weight="normal" stroke="#151515" stroke-width="0.22" >BOOT0</text>
<text x="679" y="76.92" font-size="5.4" text-anchor="start" fill="#151515" font-weight="normal" stroke="#151515" stroke-width="0.22" >BOOT1</text>
<text x="636" y="118.6" font-size="11" text-anchor="start" fill="#9c2519" font-weight="bold"  >BOOT</text>
<text x="667.5" y="118.6" font-size="11.2" text-anchor="start" fill="#9c2519" font-weight="bold"  >电路</text>
<polyline points="334.92,212.11 328.02000000000004,215.81 334.92,219.51 334.92,212.11" fill="none" stroke="#1b5226" stroke-width="1.3" stroke-linejoin="round" stroke-linecap="round" />
<polyline points="334.92,215.81 355.51,215.81" fill="none" stroke="#1b5226" stroke-width="1.7" stroke-linejoin="round" stroke-linecap="round" />
<line x1="355.51" y1="215.81" x2="362.38" y2="215.81" stroke="#a32a1c" stroke-width="1.6" />
<line x1="382.97" y1="215.81" x2="389.84" y2="215.81" stroke="#a32a1c" stroke-width="1.6" />
<rect x="362.38" y="212.91" width="20.595" height="5.8" fill="#cac6a9" stroke="#a32a1c" stroke-width="1.2"/>
<text x="362.08" y="211.11" font-size="8.3" text-anchor="start" fill="#151515" font-weight="normal" stroke="#151515" stroke-width="0.22" >R6</text>
<text x="362.48" y="224.21" font-size="5.5" text-anchor="start" fill="#151515" font-weight="normal" stroke="#151515" stroke-width="0.22" >300</text>
<polyline points="389.84,215.81 396.7,215.81 396.7,222.68" fill="none" stroke="#1b5226" stroke-width="1.7" stroke-linejoin="round" stroke-linecap="round" />
<line x1="396.7" y1="222.68" x2="396.7" y2="250.14" stroke="#a32a1c" stroke-width="1.6" />
<circle cx="396.7" cy="236.41" r="8.3" fill="#1c0a08" stroke="#a32a1c" stroke-width="1.3"/>
<polyline points="392.5,233.41 400.9,233.41 396.7,239.60999999999999 392.5,233.41" fill="none" stroke="#b8402f" stroke-width="1.0" stroke-linejoin="round" stroke-linecap="round" />
<line x1="392.5" y1="239.81" x2="400.9" y2="239.81" stroke="#b8402f" stroke-width="1.0" />
<line x1="396.7" y1="228.10999999999999" x2="396.7" y2="244.71" stroke="#b8402f" stroke-width="0.9" />
<polyline points="396.7,250.14 396.7,257.0 355.51,257.0" fill="none" stroke="#1b5226" stroke-width="1.7" stroke-linejoin="round" stroke-linecap="round" />
<circle cx="355.51" cy="215.81" r="1.7" fill="#0f3d17"/>
<circle cx="355.51" cy="257.0" r="1.7" fill="#0f3d17"/>
<polyline points="355.51,215.81 355.51,236.41 348.65,236.41" fill="none" stroke="#1b5226" stroke-width="1.7" stroke-linejoin="round" stroke-linecap="round" />
<polyline points="348.65,250.14 355.51,250.14 355.51,263.87" fill="none" stroke="#1b5226" stroke-width="1.7" stroke-linejoin="round" stroke-linecap="round" />
<line x1="338" y1="236.41" x2="348.65" y2="236.41" stroke="#a32a1c" stroke-width="1.6" />
<line x1="338" y1="250.14" x2="348.65" y2="250.14" stroke="#a32a1c" stroke-width="1.6" />
<path d="M330.9,232.38000000000002 H332.5 C338.4,232.68 341.7,238.08 341.7,243.08 C341.7,248.08 338.4,253.48000000000002 332.5,253.78 H330.9 Z" fill="#cac6a9" stroke="#a32a1c" stroke-width="1.3"/>
<line x1="332.59999999999997" y1="232.58" x2="332.59999999999997" y2="253.58" stroke="#a32a1c" stroke-width="0.9" />
<text x="324.4" y="231.4" font-size="8.1" text-anchor="start" fill="#151515" font-weight="normal" stroke="#151515" stroke-width="0.22" >BUZ1</text>
<text x="324.6" y="259.6" font-size="5.5" text-anchor="start" fill="#151515" font-weight="normal" stroke="#151515" stroke-width="0.22" >BUZZER</text>
<text x="409.6" y="236.2" font-size="8.3" text-anchor="start" fill="#151515" font-weight="normal" stroke="#151515" stroke-width="0.22" >D1</text>
<text x="409.6" y="243.5" font-size="5.6" text-anchor="start" fill="#151515" font-weight="normal" stroke="#151515" stroke-width="0.22" >LED-RED</text>
<polyline points="273.13,284.47 293.73,284.47" fill="none" stroke="#1b5226" stroke-width="1.7" stroke-linejoin="round" stroke-linecap="round" />
<circle cx="273.13" cy="284.47" r="1.9" fill="#0f3d17"/>
<text x="280" y="282.87" font-size="5.4" text-anchor="start" fill="#151515" font-weight="normal" stroke="#151515" stroke-width="0.22" >PA7</text>
<line x1="293.73" y1="284.47" x2="300.59" y2="284.47" stroke="#a32a1c" stroke-width="1.6" />
<line x1="321.19" y1="284.47" x2="328.06" y2="284.47" stroke="#a32a1c" stroke-width="1.6" />
<rect x="300.59" y="281.57000000000005" width="20.595" height="5.8" fill="#cac6a9" stroke="#a32a1c" stroke-width="1.2"/>
<text x="300.28999999999996" y="279.77000000000004" font-size="8.3" text-anchor="start" fill="#151515" font-weight="normal" stroke="#151515" stroke-width="0.22" >R7</text>
<text x="300.69" y="292.87" font-size="5.5" text-anchor="start" fill="#151515" font-weight="normal" stroke="#151515" stroke-width="0.22" >1k</text>
<polyline points="328.06,284.47 334.92,284.47" fill="none" stroke="#1b5226" stroke-width="1.7" stroke-linejoin="round" stroke-linecap="round" />
<line x1="334.92" y1="284.47" x2="341.78" y2="284.47" stroke="#a32a1c" stroke-width="1.6" />
<polyline points="344.58,279.47 355.51,270.87 355.51,263.87" fill="none" stroke="#a32a1c" stroke-width="1.6" stroke-linejoin="round" stroke-linecap="round" />
<polyline points="344.58,289.47 355.51,298.07000000000005 355.51,305.06" fill="none" stroke="#a32a1c" stroke-width="1.6" stroke-linejoin="round" stroke-linecap="round" />
<rect x="341.38" y="273.87" width="3.1999999999999886" height="21.2" fill="#cac6a9" stroke="#a32a1c" stroke-width="1.2"/>
<polygon points="355.21,298.37 349.51,294.67 353.31,291.47" fill="#e4e4d3" stroke="#a32a1c" stroke-width="1.2" stroke-linejoin="round"/>
<text x="360" y="278.6" font-size="8.3" text-anchor="start" fill="#151515" font-weight="normal" stroke="#151515" stroke-width="0.22" >Q1</text>
<text x="360" y="286.20000000000005" font-size="5.5" text-anchor="start" fill="#151515" font-weight="normal" stroke="#151515" stroke-width="0.22" >NPN</text>
<polyline points="355.51,305.06 355.51,318.79" fill="none" stroke="#1b5226" stroke-width="1.7" stroke-linejoin="round" stroke-linecap="round" />
<line x1="348.71" y1="318.79" x2="362.31" y2="318.79" stroke="#1b5226" stroke-width="1.7" />
<line x1="352.21" y1="321.99" x2="358.81" y2="321.99" stroke="#1b5226" stroke-width="1.5" />
<line x1="354.61" y1="325.09000000000003" x2="356.40999999999997" y2="325.09000000000003" stroke="#1b5226" stroke-width="1.4" />
<text x="334" y="345.2" font-size="11.2" text-anchor="start" fill="#9c2519" font-weight="bold"  >声光报警电路</text>
<circle cx="417.5" cy="277.9" r="2.5" fill="none" stroke="#3b4fc0" stroke-width="1.3"/>
<line x1="413.4" y1="277.9" x2="421.6" y2="277.9" stroke="#3b4fc0" stroke-width="1.0" />
<line x1="417.5" y1="273.8" x2="417.5" y2="282" stroke="#3b4fc0" stroke-width="1.0" />
<polyline points="465.36,270.74 479.08,270.74" fill="none" stroke="#1b5226" stroke-width="1.7" stroke-linejoin="round" stroke-linecap="round" />
<circle cx="465.36" cy="270.74" r="1.9" fill="#0f3d17"/>
<text x="473" y="268.94" font-size="5.4" text-anchor="start" fill="#151515" font-weight="normal" stroke="#151515" stroke-width="0.22" >PB9</text>
<polyline points="479.08,270.74 490.07,270.74" fill="none" stroke="#1b5226" stroke-width="1.7" stroke-linejoin="round" stroke-linecap="round" />
<line x1="490.2" y1="270.74" x2="497.05" y2="270.74" stroke="#a32a1c" stroke-width="1.6" />
<line x1="517.35" y1="270.74" x2="524.2" y2="270.74" stroke="#a32a1c" stroke-width="1.6" />
<circle cx="498.95" cy="270.74" r="1.9" fill="none" stroke="#a32a1c" stroke-width="1.2"/>
<circle cx="515.45" cy="270.74" r="1.9" fill="none" stroke="#a32a1c" stroke-width="1.2"/>
<line x1="497.4" y1="265.14" x2="517.0" y2="265.14" stroke="#a32a1c" stroke-width="1.3" />
<rect x="501.2" y="261.94" width="12" height="3.2" fill="#f1c3b0" stroke="#a32a1c" stroke-width="1.2"/>
<circle cx="521.0" cy="264.44" r="2.4" fill="#b5261a"/>
<polyline points="523.02,270.74 540.87,270.74 540.87,291.33" fill="none" stroke="#1b5226" stroke-width="1.7" stroke-linejoin="round" stroke-linecap="round" />
<circle cx="540.87" cy="270.74" r="1.7" fill="#0f3d17"/>
<line x1="534.07" y1="291.33" x2="547.67" y2="291.33" stroke="#1b5226" stroke-width="1.7" />
<line x1="537.57" y1="294.53" x2="544.17" y2="294.53" stroke="#1b5226" stroke-width="1.5" />
<line x1="539.97" y1="297.63" x2="541.77" y2="297.63" stroke="#1b5226" stroke-width="1.4" />
<text x="546" y="276" font-size="11" text-anchor="start" fill="#9c2519" font-weight="bold"  >LED</text>
<text x="567.5" y="276" font-size="11.2" text-anchor="start" fill="#9c2519" font-weight="bold"  >灯开关</text>
<text x="475.3" y="303.2" font-size="11.2" text-anchor="start" fill="#9c2519" font-weight="bold"  >独立按键</text>
<rect x="685.03" y="222.68" width="82.38" height="54.92" fill="#cac6a9" stroke="#a32a1c" stroke-width="1.4"/>
<rect x="706" y="229.3" width="55.6" height="42.4" fill="#000" stroke="#a32a1c" stroke-width="0.8"/>
<rect x="709.8" y="232.8" width="3.2" height="3.4" fill="#2fd03a"/>
<line x1="671.3" y1="229.55" x2="685.03" y2="229.55" stroke="#a32a1c" stroke-width="1.6" />
<text x="689.3" y="231.65" font-size="5.65" text-anchor="start" fill="#33332c" font-weight="normal" stroke="#33332c" stroke-width="0.22" >RXD</text>
<line x1="671.3" y1="243.28" x2="685.03" y2="243.28" stroke="#a32a1c" stroke-width="1.6" />
<text x="689.3" y="245.38" font-size="5.65" text-anchor="start" fill="#33332c" font-weight="normal" stroke="#33332c" stroke-width="0.22" >TXD</text>
<line x1="671.3" y1="257.0" x2="685.03" y2="257.0" stroke="#a32a1c" stroke-width="1.6" />
<text x="689.3" y="259.1" font-size="5.65" text-anchor="start" fill="#33332c" font-weight="normal" stroke="#33332c" stroke-width="0.22" >RTS</text>
<line x1="671.3" y1="270.74" x2="685.03" y2="270.74" stroke="#a32a1c" stroke-width="1.6" />
<text x="689.3" y="272.84000000000003" font-size="5.65" text-anchor="start" fill="#33332c" font-weight="normal" stroke="#33332c" stroke-width="0.22" >CTS</text>
<polyline points="650.71,229.55 671.3,229.55" fill="none" stroke="#1b5226" stroke-width="1.7" stroke-linejoin="round" stroke-linecap="round" />
<polyline points="650.71,243.28 671.3,243.28" fill="none" stroke="#1b5226" stroke-width="1.7" stroke-linejoin="round" stroke-linecap="round" />
<circle cx="650.71" cy="229.55" r="1.9" fill="#0f3d17"/>
<circle cx="650.71" cy="243.28" r="1.9" fill="#0f3d17"/>
<text x="658" y="227.75" font-size="5.4" text-anchor="start" fill="#151515" font-weight="normal" stroke="#151515" stroke-width="0.22" >PA9</text>
<text x="658" y="241.48" font-size="5.4" text-anchor="start" fill="#151515" font-weight="normal" stroke="#151515" stroke-width="0.22" >PA10</text>
<text x="653.4" y="304.2" font-size="11.2" text-anchor="start" fill="#9c2519" font-weight="bold"  >串口1窗口（模拟手机端）</text>
<polyline points="671.3,349.42 664.4,353.12 671.3,356.82 671.3,349.42" fill="none" stroke="#1b5226" stroke-width="1.3" stroke-linejoin="round" stroke-linecap="round" />
<polyline points="671.3,353.12 685.03,353.12" fill="none" stroke="#1b5226" stroke-width="1.7" stroke-linejoin="round" stroke-linecap="round" />
<line x1="685.03" y1="353.12" x2="691.9" y2="353.12" stroke="#a32a1c" stroke-width="1.6" />
<line x1="712.5" y1="353.12" x2="719.36" y2="353.12" stroke="#a32a1c" stroke-width="1.6" />
<rect x="691.9" y="350.22" width="20.595" height="5.8" fill="#cac6a9" stroke="#a32a1c" stroke-width="1.2"/>
<text x="691.6" y="348.42" font-size="8.3" text-anchor="start" fill="#151515" font-weight="normal" stroke="#151515" stroke-width="0.22" >R25</text>
<text x="692.0" y="361.52" font-size="5.5" text-anchor="start" fill="#151515" font-weight="normal" stroke="#151515" stroke-width="0.22" >300</text>
<polyline points="719.36,353.12 726.23,353.12" fill="none" stroke="#1b5226" stroke-width="1.7" stroke-linejoin="round" stroke-linecap="round" />
<line x1="726.23" y1="353.12" x2="753.68" y2="353.12" stroke="#a32a1c" stroke-width="1.6" />
<circle cx="740.46" cy="353.42" r="8.5" fill="#1c0a08" stroke="#a32a1c" stroke-width="1.3"/>
<polyline points="737.46,349.22 737.46,357.62 743.6600000000001,353.42 737.46,349.22" fill="none" stroke="#b8402f" stroke-width="1.0" stroke-linejoin="round" stroke-linecap="round" />
<line x1="743.86" y1="349.22" x2="743.86" y2="357.62" stroke="#b8402f" stroke-width="1.0" />
<line x1="731.96" y1="353.42" x2="748.96" y2="353.42" stroke="#b8402f" stroke-width="0.9" />
<polyline points="753.68,353.12 760.55,353.12 760.55,380.57" fill="none" stroke="#1b5226" stroke-width="1.7" stroke-linejoin="round" stroke-linecap="round" />
<text x="732" y="343" font-size="8.6" text-anchor="start" fill="#151515" font-weight="normal" stroke="#151515" stroke-width="0.22" >D7</text>
<text x="732" y="368.4" font-size="5.4" text-anchor="start" fill="#151515" font-weight="normal" stroke="#151515" stroke-width="0.22" >LED-RED</text>
<rect x="733.09" y="380.57" width="54.92" height="34.325" fill="none" stroke="#a32a1c" stroke-width="1.3"/>
<polyline points="719.36,383.74 712.46,387.44 719.36,391.14 719.36,383.74" fill="none" stroke="#1b5226" stroke-width="1.3" stroke-linejoin="round" stroke-linecap="round" />
<polyline points="719.36,387.44 733.09,387.44" fill="none" stroke="#1b5226" stroke-width="1.7" stroke-linejoin="round" stroke-linecap="round" />
<line x1="733.09" y1="387.44" x2="739.96" y2="387.44" stroke="#a32a1c" stroke-width="1.6" />
<line x1="733.09" y1="408.04" x2="739.96" y2="408.04" stroke="#a32a1c" stroke-width="1.6" />
<path d="M739.96,387.44 h0.8 a6.2,3.43 0 0 1 0,6.865 a6.2,3.43 0 0 1 0,6.865 a6.2,3.43 0 0 1 0,6.865 h-0.8" fill="none" stroke="#a32a1c" stroke-width="1.6"/>
<line x1="751.0" y1="384.2" x2="751.0" y2="411.6" stroke="#a32a1c" stroke-width="1.3" />
<line x1="754.2" y1="384.2" x2="754.2" y2="411.6" stroke="#a32a1c" stroke-width="1.3" />
<line x1="760.55" y1="380.57" x2="760.55" y2="384.69" stroke="#a32a1c" stroke-width="1.6" />
<circle cx="760.55" cy="386.44" r="1.5" fill="#b4301f" stroke="#a32a1c" stroke-width="1.0"/>
<line x1="774.28" y1="373.71" x2="774.28" y2="384.69" stroke="#a32a1c" stroke-width="1.6" />
<circle cx="774.28" cy="386.44" r="1.5" fill="#b4301f" stroke="#a32a1c" stroke-width="1.0"/>
<circle cx="767.91" cy="409.24" r="1.5" fill="#b4301f" stroke="#a32a1c" stroke-width="1.0"/>
<line x1="767.91" y1="410.84000000000003" x2="767.91" y2="421.76" stroke="#a32a1c" stroke-width="1.6" />
<line x1="773.88" y1="388.34" x2="768.31" y2="407.64000000000004" stroke="#3aa6c8" stroke-width="1.6" />
<polyline points="767.9,421.76 767.9,435.5" fill="none" stroke="#1b5226" stroke-width="1.7" stroke-linejoin="round" stroke-linecap="round" />
<line x1="760.96" y1="435.5" x2="774.56" y2="435.5" stroke="#1b5226" stroke-width="1.7" />
<line x1="764.46" y1="438.7" x2="771.06" y2="438.7" stroke="#1b5226" stroke-width="1.5" />
<line x1="766.86" y1="441.8" x2="768.66" y2="441.8" stroke="#1b5226" stroke-width="1.4" />
<polyline points="733.09,408.04 719.36,408.04 726.23,442.36" fill="none" stroke="#1b5226" stroke-width="1.7" stroke-linejoin="round" stroke-linecap="round" />
<polyline points="623.25,435.5 650.71,435.5" fill="none" stroke="#1b5226" stroke-width="1.7" stroke-linejoin="round" stroke-linecap="round" />
<circle cx="623.25" cy="435.5" r="1.9" fill="#0f3d17"/>
<text x="631" y="433.7" font-size="5.4" text-anchor="start" fill="#151515" font-weight="normal" stroke="#151515" stroke-width="0.22" >PA8</text>
<line x1="650.71" y1="435.5" x2="657.58" y2="435.5" stroke="#a32a1c" stroke-width="1.6" />
<line x1="678.17" y1="435.5" x2="685.03" y2="435.5" stroke="#a32a1c" stroke-width="1.6" />
<rect x="657.58" y="432.6" width="20.595" height="5.8" fill="#cac6a9" stroke="#a32a1c" stroke-width="1.2"/>
<text x="657.2800000000001" y="430.8" font-size="8.3" text-anchor="start" fill="#151515" font-weight="normal" stroke="#151515" stroke-width="0.22" >R26</text>
<text x="657.6800000000001" y="443.9" font-size="5.5" text-anchor="start" fill="#151515" font-weight="normal" stroke="#151515" stroke-width="0.22" >1k</text>
<polyline points="685.03,435.5 705.63,456.09" fill="none" stroke="#1b5226" stroke-width="1.7" stroke-linejoin="round" stroke-linecap="round" />
<line x1="705.63" y1="456.09" x2="712.5" y2="456.09" stroke="#a32a1c" stroke-width="1.6" />
<polyline points="715.3,451.09 726.23,442.48999999999995 726.23,435.5" fill="none" stroke="#a32a1c" stroke-width="1.6" stroke-linejoin="round" stroke-linecap="round" />
<polyline points="715.3,461.09 726.23,469.69 726.23,476.69" fill="none" stroke="#a32a1c" stroke-width="1.6" stroke-linejoin="round" stroke-linecap="round" />
<rect x="712.1" y="445.48999999999995" width="3.199999999999932" height="21.2" fill="#cac6a9" stroke="#a32a1c" stroke-width="1.2"/>
<polygon points="725.9300000000001,469.98999999999995 720.23,466.28999999999996 724.03,463.09" fill="#e4e4d3" stroke="#a32a1c" stroke-width="1.2" stroke-linejoin="round"/>
<text x="723.9" y="436.3" font-size="8.3" text-anchor="start" fill="#151515" font-weight="normal" stroke="#151515" stroke-width="0.22" >Q7</text>
<text x="723.9" y="443.90000000000003" font-size="5.5" text-anchor="start" fill="#151515" font-weight="normal" stroke="#151515" stroke-width="0.22" >NPN</text>
<polyline points="719.36,469.82 726.23,469.82" fill="none" stroke="#1b5226" stroke-width="1.7" stroke-linejoin="round" stroke-linecap="round" />
<line x1="712.5600000000001" y1="469.82" x2="726.16" y2="469.82" stroke="#1b5226" stroke-width="1.7" />
<line x1="716.0600000000001" y1="473.02" x2="722.66" y2="473.02" stroke="#1b5226" stroke-width="1.5" />
<line x1="718.46" y1="476.12" x2="720.26" y2="476.12" stroke="#1b5226" stroke-width="1.4" />
<text x="683" y="496.6" font-size="11.2" text-anchor="start" fill="#9c2519" font-weight="bold"  >继电器</text>
<text x="715.6" y="496.6" font-size="11" text-anchor="start" fill="#9c2519" font-weight="bold"  >(LED</text>
<text x="742" y="496.6" font-size="11.2" text-anchor="start" fill="#9c2519" font-weight="bold"  >灯</text>
<text x="753" y="496.6" font-size="11" text-anchor="start" fill="#9c2519" font-weight="bold"  >)</text>
<circle cx="80.92" cy="449.71" r="1.9" fill="#0f3d17"/>
<polyline points="80.92,449.71 108.38,449.71" fill="none" stroke="#1b5226" stroke-width="1.7" stroke-linejoin="round" stroke-linecap="round" />
<text x="87.92" y="448.10999999999996" font-size="5.5" text-anchor="start" fill="#151515" font-weight="normal" stroke="#151515" stroke-width="0.22" >PB14</text>
<line x1="108.38" y1="449.71" x2="116.24" y2="449.71" stroke="#a32a1c" stroke-width="1.3" />
<circle cx="117.64" cy="449.71" r="1.4" fill="none" stroke="#a32a1c" stroke-width="1.0"/>
<circle cx="131.03" cy="442.84" r="1.4" fill="none" stroke="#a32a1c" stroke-width="1.0"/>
<circle cx="130.43" cy="456.57" r="1.4" fill="none" stroke="#a32a1c" stroke-width="1.0"/>
<line x1="118.84" y1="449.10999999999996" x2="130.03" y2="443.44" stroke="#a32a1c" stroke-width="1.3" />
<line x1="132.43" y1="442.84" x2="142.7" y2="442.84" stroke="#a32a1c" stroke-width="1.3" />
<line x1="131.83" y1="456.57" x2="142.7" y2="456.57" stroke="#a32a1c" stroke-width="1.3" />
<polyline points="142.7,442.84 163.3,442.84" fill="none" stroke="#1b5226" stroke-width="1.7" stroke-linejoin="round" stroke-linecap="round" />
<polyline points="142.7,456.57 163.3,456.57" fill="none" stroke="#1b5226" stroke-width="1.7" stroke-linejoin="round" stroke-linecap="round" />
<circle cx="137.0" cy="446.62" r="2.7" fill="#ae2418"/>
<circle cx="137.0" cy="453.14" r="2.7" fill="#ae2418"/>
<polyline points="163.3,439.14 170.20000000000002,442.84 163.3,446.53999999999996 163.3,439.14" fill="none" stroke="#1b5226" stroke-width="1.3" stroke-linejoin="round" stroke-linecap="round" />
<line x1="163.3" y1="449.77" x2="163.3" y2="463.37" stroke="#1b5226" stroke-width="1.7" />
<line x1="166.5" y1="453.27" x2="166.5" y2="459.87" stroke="#1b5226" stroke-width="1.5" />
<line x1="169.60000000000002" y1="455.67" x2="169.60000000000002" y2="457.46999999999997" stroke="#1b5226" stroke-width="1.4" />
<text x="114.03999999999999" y="439.94" font-size="8.4" text-anchor="start" fill="#151515" font-weight="normal" stroke="#151515" stroke-width="0.22" >SW2</text>
<text x="114.03999999999999" y="464.17" font-size="5.7" text-anchor="start" fill="#151515" font-weight="normal" stroke="#151515" stroke-width="0.22" >SW-SPDT</text>
<text x="183.6" y="448.44" font-size="11.2" text-anchor="start" fill="#9c2519" font-weight="bold"  >暗</text>
<text x="183.6" y="462.57" font-size="11.2" text-anchor="start" fill="#9c2519" font-weight="bold"  >亮</text>
<text x="92.6" y="496.6" font-size="11.2" text-anchor="start" fill="#9c2519" font-weight="bold"  >光照触发模块</text>
<circle cx="273.13" cy="456.09" r="1.9" fill="#0f3d17"/>
<polyline points="273.13,456.09 300.59,456.09" fill="none" stroke="#1b5226" stroke-width="1.7" stroke-linejoin="round" stroke-linecap="round" />
<text x="280.13" y="454.48999999999995" font-size="5.5" text-anchor="start" fill="#151515" font-weight="normal" stroke="#151515" stroke-width="0.22" >PB15</text>
<line x1="300.59" y1="456.09" x2="308.46000000000004" y2="456.09" stroke="#a32a1c" stroke-width="1.3" />
<circle cx="309.86" cy="456.09" r="1.4" fill="none" stroke="#a32a1c" stroke-width="1.0"/>
<circle cx="323.25" cy="449.23" r="1.4" fill="none" stroke="#a32a1c" stroke-width="1.0"/>
<circle cx="322.65" cy="462.96" r="1.4" fill="none" stroke="#a32a1c" stroke-width="1.0"/>
<line x1="311.06" y1="455.48999999999995" x2="322.25" y2="449.83000000000004" stroke="#a32a1c" stroke-width="1.3" />
<line x1="324.65" y1="449.23" x2="334.92" y2="449.23" stroke="#a32a1c" stroke-width="1.3" />
<line x1="324.05" y1="462.96" x2="334.92" y2="462.96" stroke="#a32a1c" stroke-width="1.3" />
<polyline points="334.92,449.23 355.51,449.23" fill="none" stroke="#1b5226" stroke-width="1.7" stroke-linejoin="round" stroke-linecap="round" />
<polyline points="334.92,462.96 355.51,462.96" fill="none" stroke="#1b5226" stroke-width="1.7" stroke-linejoin="round" stroke-linecap="round" />
<circle cx="329.22" cy="453.0" r="2.7" fill="#ae2418"/>
<circle cx="329.22" cy="459.52" r="2.7" fill="#ae2418"/>
<polyline points="355.51,445.53000000000003 362.40999999999997,449.23 355.51,452.93 355.51,445.53000000000003" fill="none" stroke="#1b5226" stroke-width="1.3" stroke-linejoin="round" stroke-linecap="round" />
<line x1="355.51" y1="456.15999999999997" x2="355.51" y2="469.76" stroke="#1b5226" stroke-width="1.7" />
<line x1="358.71" y1="459.65999999999997" x2="358.71" y2="466.26" stroke="#1b5226" stroke-width="1.5" />
<line x1="361.81" y1="462.06" x2="361.81" y2="463.85999999999996" stroke="#1b5226" stroke-width="1.4" />
<text x="306.26" y="446.33000000000004" font-size="8.4" text-anchor="start" fill="#151515" font-weight="normal" stroke="#151515" stroke-width="0.22" >SW3</text>
<text x="306.26" y="470.56" font-size="5.7" text-anchor="start" fill="#151515" font-weight="normal" stroke="#151515" stroke-width="0.22" >SW-SPDT</text>
<text x="371.8" y="454.83000000000004" font-size="11.2" text-anchor="start" fill="#9c2519" font-weight="bold"  >无人</text>
<text x="371.8" y="468.96" font-size="11.2" text-anchor="start" fill="#9c2519" font-weight="bold"  >有人</text>
<text x="269.7" y="496" font-size="11.2" text-anchor="start" fill="#9c2519" font-weight="bold"  >人体热释电感应模块</text>
<circle cx="444.76" cy="449.64" r="1.9" fill="#0f3d17"/>
<polyline points="444.76,449.64 472.22,449.64" fill="none" stroke="#1b5226" stroke-width="1.7" stroke-linejoin="round" stroke-linecap="round" />
<text x="451.76" y="448.03999999999996" font-size="5.5" text-anchor="start" fill="#151515" font-weight="normal" stroke="#151515" stroke-width="0.22" >PB12</text>
<line x1="472.22" y1="449.64" x2="480.09000000000003" y2="449.64" stroke="#a32a1c" stroke-width="1.3" />
<circle cx="481.49" cy="449.64" r="1.4" fill="none" stroke="#a32a1c" stroke-width="1.0"/>
<circle cx="494.87" cy="442.77" r="1.4" fill="none" stroke="#a32a1c" stroke-width="1.0"/>
<circle cx="494.27" cy="456.5" r="1.4" fill="none" stroke="#a32a1c" stroke-width="1.0"/>
<line x1="482.69" y1="449.03999999999996" x2="493.87" y2="443.37" stroke="#a32a1c" stroke-width="1.3" />
<line x1="496.27" y1="442.77" x2="506.55" y2="442.77" stroke="#a32a1c" stroke-width="1.3" />
<line x1="495.67" y1="456.5" x2="506.55" y2="456.5" stroke="#a32a1c" stroke-width="1.3" />
<polyline points="506.55,442.77 527.14,442.77" fill="none" stroke="#1b5226" stroke-width="1.7" stroke-linejoin="round" stroke-linecap="round" />
<polyline points="506.55,456.5 527.14,456.5" fill="none" stroke="#1b5226" stroke-width="1.7" stroke-linejoin="round" stroke-linecap="round" />
<circle cx="500.85" cy="446.55" r="2.7" fill="#ae2418"/>
<circle cx="500.85" cy="453.07" r="2.7" fill="#ae2418"/>
<polyline points="527.14,439.07 534.04,442.77 527.14,446.46999999999997 527.14,439.07" fill="none" stroke="#1b5226" stroke-width="1.3" stroke-linejoin="round" stroke-linecap="round" />
<line x1="527.14" y1="449.7" x2="527.14" y2="463.3" stroke="#1b5226" stroke-width="1.7" />
<line x1="530.34" y1="453.2" x2="530.34" y2="459.8" stroke="#1b5226" stroke-width="1.5" />
<line x1="533.4399999999999" y1="455.6" x2="533.4399999999999" y2="457.4" stroke="#1b5226" stroke-width="1.4" />
<text x="477.88" y="439.87" font-size="8.4" text-anchor="start" fill="#151515" font-weight="normal" stroke="#151515" stroke-width="0.22" >SW1</text>
<text x="477.88" y="464.1" font-size="5.7" text-anchor="start" fill="#151515" font-weight="normal" stroke="#151515" stroke-width="0.22" >SW-SPDT</text>
<text x="542.6" y="448.37" font-size="11.2" text-anchor="start" fill="#9c2519" font-weight="bold"  >安静</text>
<text x="542.6" y="462.5" font-size="11.2" text-anchor="start" fill="#9c2519" font-weight="bold"  >声响</text>
<text x="458.8" y="496.6" font-size="11.2" text-anchor="start" fill="#9c2519" font-weight="bold"  >声音触发模块</text>
<path transform="translate(85.5,211.2) scale(0.88)" d="M0,0 L0,11.5 L2.7,9 L4.6,13.2 L6.3,12.4 L4.4,8.4 L8,8.4 Z" fill="#fff" stroke="#222" stroke-width="0.7" stroke-linejoin="round"/>
<path transform="translate(720.6,464.2) scale(0.98)" d="M0,0 L0,11.5 L2.7,9 L4.6,13.2 L6.3,12.4 L4.4,8.4 L8,8.4 Z" fill="#fff" stroke="#222" stroke-width="0.7" stroke-linejoin="round"/>
</svg>
</body></html>
